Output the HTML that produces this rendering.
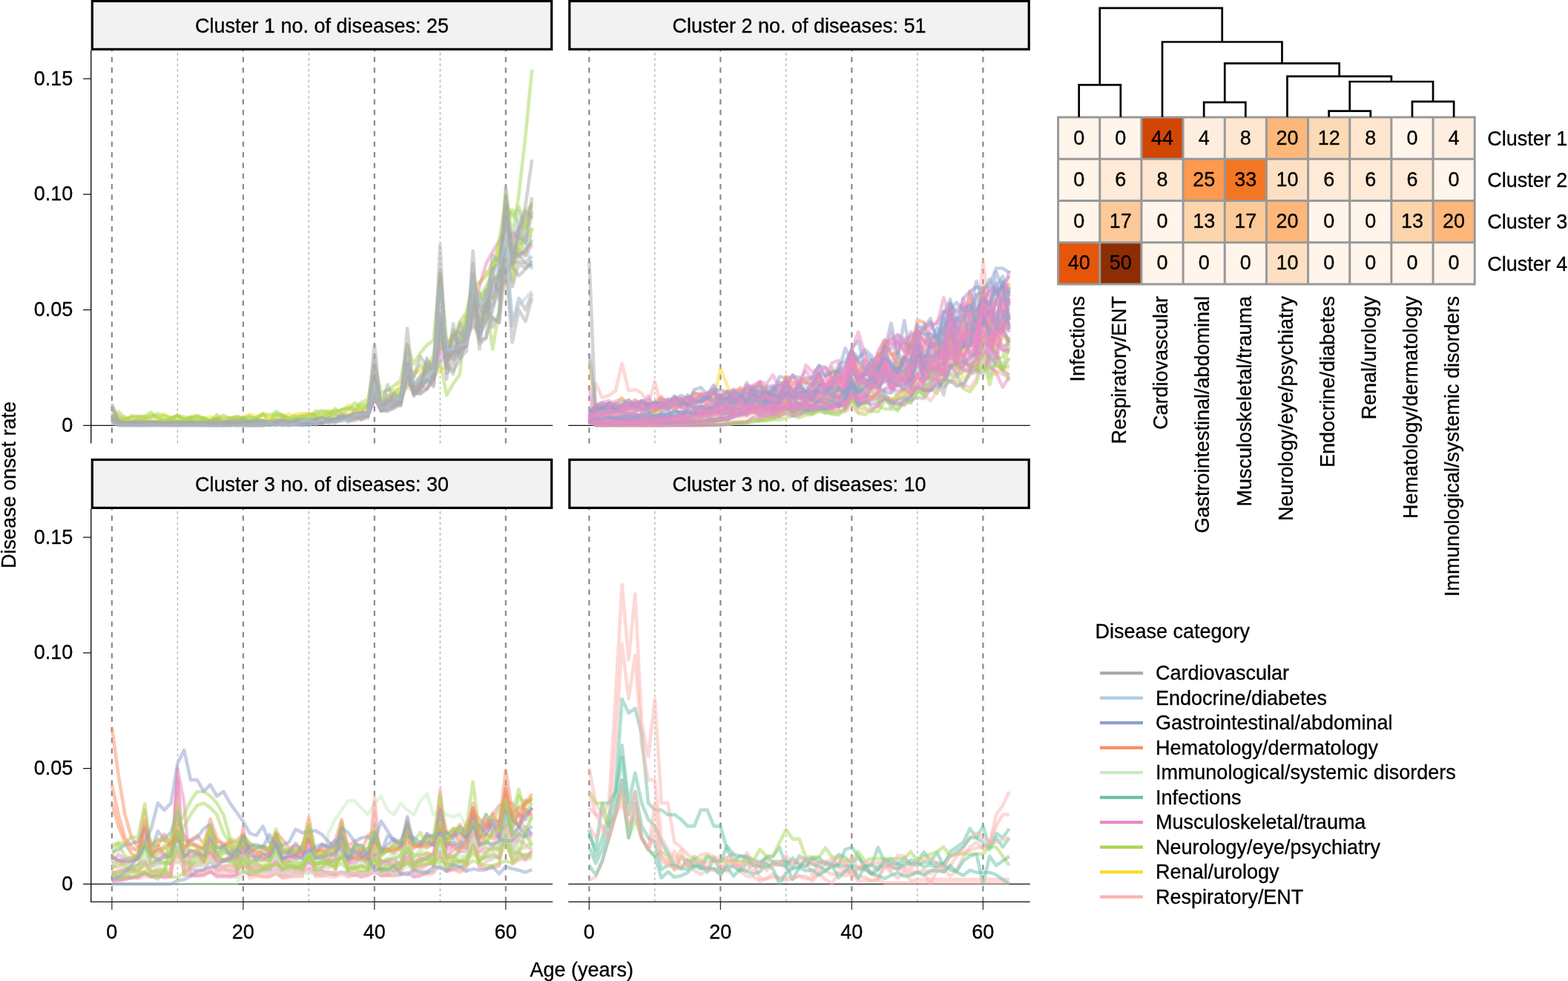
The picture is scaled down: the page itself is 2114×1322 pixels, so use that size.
<!DOCTYPE html><html><head><meta charset="utf-8"><title>Disease onset clusters</title><style>html,body{margin:0;padding:0;background:#fff;}svg{display:block;}text{stroke:#000;stroke-width:0.3px;}</style></head><body>
<svg width="2114" height="1322" viewBox="0 0 2114 1322" font-family="Liberation Sans, Arial, Helvetica, sans-serif" font-size="27">
<rect width="2114" height="1322" fill="#fff"/>
<line x1="239.35" y1="597.4" x2="239.35" y2="68.0" stroke="#a6a6a6" stroke-width="1.1" stroke-dasharray="3.6 3.66"/>
<line x1="416.35" y1="597.4" x2="416.35" y2="68.0" stroke="#a6a6a6" stroke-width="1.1" stroke-dasharray="3.6 3.66"/>
<line x1="593.35" y1="597.4" x2="593.35" y2="68.0" stroke="#a6a6a6" stroke-width="1.1" stroke-dasharray="3.6 3.66"/>
<line x1="150.85" y1="597.4" x2="150.85" y2="68.0" stroke="#8a8a8a" stroke-width="2.2" stroke-dasharray="7 7.27"/>
<line x1="327.85" y1="597.4" x2="327.85" y2="68.0" stroke="#8a8a8a" stroke-width="2.2" stroke-dasharray="7 7.27"/>
<line x1="504.85" y1="597.4" x2="504.85" y2="68.0" stroke="#8a8a8a" stroke-width="2.2" stroke-dasharray="7 7.27"/>
<line x1="681.85" y1="597.4" x2="681.85" y2="68.0" stroke="#8a8a8a" stroke-width="2.2" stroke-dasharray="7 7.27"/>
<line x1="112.0" y1="573.30" x2="745.2" y2="573.30" stroke="#111" stroke-width="1.2"/>
<g fill="none" stroke-width="4.6" stroke-linejoin="round" stroke-linecap="butt">
<polyline points="150.8,565.6 159.7,561.0 168.5,565.1 177.4,562.0 186.2,563.0 195.1,563.6 203.9,566.0 212.8,566.6 221.6,559.9 230.5,565.1 239.3,564.6 248.2,565.1 257.0,566.7 265.9,566.4 274.8,563.0 283.6,566.9 292.4,561.7 301.3,567.5 310.1,565.2 319.0,567.2 327.9,562.2 336.7,558.2 345.5,561.7 354.4,558.6 363.2,565.4 372.1,558.4 380.9,559.5 389.8,564.9 398.6,558.0 407.5,557.3 416.4,557.7 425.2,558.4 434.0,560.4 442.9,554.8 451.8,558.3 460.6,560.3 469.4,557.3 478.3,552.3 487.1,552.9 496.0,549.3 504.9,541.2 513.7,544.5 522.5,540.5 531.4,541.7 540.2,531.3 549.1,522.2 557.9,527.1 566.8,514.5 575.6,504.1 584.5,508.1 593.4,497.6 602.2,494.9 611.0,479.7 619.9,470.9 628.8,441.8 637.6,441.6 646.4,439.0 655.3,410.9 664.1,400.8 673.0,398.0 681.9,382.6 690.7,371.8 699.5,327.0 708.4,327.9 717.2,306.4" stroke="#FFD92F" stroke-opacity="0.50"/>
<polyline points="150.8,556.6 159.7,570.4 168.5,569.8 177.4,568.7 186.2,566.4 195.1,569.0 203.9,568.1 212.8,569.3 221.6,568.1 230.5,566.4 239.3,568.4 248.2,568.3 257.0,566.6 265.9,569.3 274.8,568.0 283.6,569.9 292.4,564.6 301.3,568.9 310.1,563.8 319.0,563.5 327.9,569.0 336.7,566.0 345.5,568.2 354.4,567.4 363.2,568.5 372.1,566.1 380.9,565.7 389.8,569.6 398.6,564.3 407.5,563.7 416.4,566.9 425.2,562.5 434.0,563.5 442.9,564.1 451.8,558.9 460.6,562.1 469.4,563.7 478.3,553.9 487.1,553.2 496.0,559.0 504.9,539.0 513.7,543.8 522.5,545.4 531.4,543.0 540.2,531.6 549.1,519.2 557.9,520.1 566.8,509.9 575.6,508.3 584.5,507.5 593.4,486.3 602.2,478.2 611.0,476.1 619.9,470.7 628.8,458.5 637.6,425.3 646.4,394.5 655.3,414.6 664.1,378.4 673.0,394.8 681.9,305.5 690.7,353.4 699.5,335.7 708.4,344.5 717.2,329.6" stroke="#E78AC3" stroke-opacity="0.50"/>
<polyline points="150.8,557.7 159.7,565.9 168.5,561.8 177.4,569.2 186.2,563.4 195.1,562.4 203.9,558.8 212.8,561.8 221.6,557.8 230.5,564.2 239.3,561.2 248.2,565.2 257.0,561.3 265.9,560.2 274.8,564.5 283.6,561.3 292.4,566.3 301.3,561.9 310.1,564.6 319.0,562.8 327.9,562.9 336.7,567.2 345.5,563.2 354.4,559.3 363.2,561.2 372.1,561.6 380.9,562.0 389.8,557.5 398.6,562.5 407.5,560.1 416.4,556.9 425.2,562.2 434.0,561.8 442.9,556.9 451.8,553.3 460.6,553.8 469.4,545.6 478.3,552.0 487.1,550.4 496.0,541.8 504.9,525.9 513.7,539.4 522.5,538.4 531.4,533.0 540.2,517.4 549.1,506.5 557.9,501.0 566.8,501.4 575.6,489.0 584.5,486.0 593.4,468.9 602.2,463.9 611.0,451.7 619.9,445.6 628.8,433.8 637.6,393.3 646.4,382.9 655.3,366.4 664.1,370.0 673.0,328.2 681.9,331.4 690.7,337.4 699.5,305.6 708.4,306.0 717.2,291.6" stroke="#FFD92F" stroke-opacity="0.50"/>
<polyline points="150.8,564.9 159.7,573.3 168.5,573.3 177.4,573.3 186.2,573.3 195.1,573.3 203.9,573.3 212.8,573.3 221.6,573.3 230.5,573.3 239.3,573.3 248.2,573.3 257.0,573.3 265.9,573.3 274.8,573.3 283.6,573.3 292.4,573.3 301.3,573.3 310.1,571.4 319.0,573.3 327.9,572.8 336.7,573.3 345.5,573.3 354.4,573.3 363.2,571.5 372.1,569.0 380.9,571.2 389.8,572.6 398.6,572.6 407.5,572.6 416.4,572.5 425.2,570.4 434.0,569.0 442.9,563.9 451.8,565.4 460.6,562.5 469.4,568.6 478.3,564.5 487.1,559.5 496.0,560.4 504.9,537.4 513.7,551.9 522.5,548.6 531.4,543.1 540.2,538.3 549.1,504.1 557.9,530.3 566.8,525.6 575.6,505.7 584.5,507.6 593.4,455.7 602.2,478.1 611.0,484.5 619.9,456.9 628.8,434.7 637.6,417.2 646.4,429.2 655.3,389.8 664.1,400.9 673.0,361.8 681.9,299.2 690.7,354.4 699.5,306.6 708.4,327.9 717.2,285.3" stroke="#8DA0CB" stroke-opacity="0.50"/>
<polyline points="150.8,546.8 159.7,565.1 168.5,567.1 177.4,569.6 186.2,569.3 195.1,567.8 203.9,568.5 212.8,569.5 221.6,568.1 230.5,567.4 239.3,568.3 248.2,568.9 257.0,567.8 265.9,568.6 274.8,568.7 283.6,566.2 292.4,564.1 301.3,568.1 310.1,571.0 319.0,567.8 327.9,567.7 336.7,566.9 345.5,567.8 354.4,566.0 363.2,568.0 372.1,567.8 380.9,571.2 389.8,567.5 398.6,567.3 407.5,565.8 416.4,565.2 425.2,562.7 434.0,563.1 442.9,565.1 451.8,560.0 460.6,562.3 469.4,561.2 478.3,560.8 487.1,555.9 496.0,545.1 504.9,538.7 513.7,547.9 522.5,547.1 531.4,539.9 540.2,539.1 549.1,517.2 557.9,519.3 566.8,512.8 575.6,508.9 584.5,499.6 593.4,467.7 602.2,473.4 611.0,466.9 619.9,469.2 628.8,442.2 637.6,409.9 646.4,401.8 655.3,392.7 664.1,367.7 673.0,345.9 681.9,255.6 690.7,321.0 699.5,261.8 708.4,184.0 717.2,93.7" stroke="#A6D854" stroke-opacity="0.50"/>
<polyline points="150.8,564.5 159.7,565.8 168.5,570.2 177.4,569.0 186.2,568.1 195.1,567.2 203.9,569.2 212.8,567.9 221.6,566.3 230.5,567.9 239.3,567.0 248.2,567.8 257.0,566.1 265.9,566.6 274.8,566.0 283.6,570.5 292.4,569.5 301.3,571.7 310.1,573.3 319.0,567.7 327.9,564.9 336.7,567.6 345.5,571.8 354.4,569.7 363.2,569.6 372.1,567.7 380.9,564.4 389.8,566.6 398.6,564.8 407.5,567.0 416.4,563.8 425.2,565.2 434.0,563.9 442.9,558.7 451.8,564.6 460.6,562.7 469.4,561.0 478.3,556.7 487.1,556.1 496.0,555.5 504.9,538.9 513.7,547.6 522.5,543.0 531.4,539.1 540.2,530.6 549.1,511.9 557.9,523.4 566.8,520.4 575.6,495.4 584.5,511.0 593.4,486.1 602.2,532.8 611.0,517.2 619.9,504.8 628.8,424.9 637.6,425.6 646.4,431.3 655.3,400.1 664.1,470.5 673.0,417.6 681.9,304.3 690.7,380.5 699.5,316.4 708.4,344.4 717.2,307.6" stroke="#A6D854" stroke-opacity="0.50"/>
<polyline points="150.8,565.0 159.7,568.4 168.5,570.5 177.4,570.0 186.2,570.9 195.1,571.0 203.9,569.2 212.8,570.4 221.6,570.2 230.5,570.5 239.3,570.0 248.2,570.3 257.0,570.0 265.9,570.0 274.8,568.9 283.6,572.6 292.4,570.3 301.3,568.8 310.1,568.2 319.0,571.4 327.9,570.2 336.7,568.5 345.5,568.1 354.4,569.6 363.2,570.4 372.1,571.5 380.9,566.1 389.8,572.4 398.6,566.4 407.5,567.9 416.4,567.5 425.2,566.6 434.0,567.3 442.9,563.8 451.8,564.5 460.6,560.5 469.4,562.8 478.3,561.3 487.1,560.3 496.0,558.2 504.9,512.4 513.7,552.1 522.5,546.3 531.4,529.6 540.2,537.4 549.1,491.3 557.9,534.0 566.8,523.4 575.6,511.5 584.5,518.6 593.4,429.3 602.2,479.6 611.0,476.6 619.9,475.2 628.8,465.9 637.6,393.1 646.4,441.6 655.3,420.3 664.1,361.0 673.0,403.7 681.9,350.0 690.7,352.9 699.5,343.0 708.4,353.7 717.2,345.4" stroke="#AAAAAA" stroke-opacity="0.50"/>
<polyline points="150.8,569.2 159.7,570.5 168.5,569.7 177.4,570.4 186.2,570.9 195.1,570.7 203.9,570.2 212.8,570.0 221.6,570.4 230.5,570.1 239.3,568.8 248.2,571.6 257.0,571.9 265.9,570.4 274.8,571.2 283.6,570.0 292.4,570.5 301.3,570.1 310.1,568.6 319.0,569.2 327.9,571.9 336.7,570.4 345.5,567.8 354.4,569.7 363.2,569.4 372.1,568.5 380.9,572.1 389.8,570.9 398.6,570.0 407.5,566.1 416.4,568.3 425.2,565.2 434.0,563.7 442.9,570.0 451.8,565.0 460.6,564.7 469.4,560.5 478.3,559.7 487.1,556.3 496.0,557.0 504.9,528.0 513.7,550.2 522.5,547.3 531.4,530.4 540.2,542.5 549.1,494.5 557.9,529.5 566.8,524.2 575.6,485.8 584.5,498.5 593.4,461.9 602.2,481.4 611.0,473.3 619.9,475.6 628.8,465.5 637.6,410.4 646.4,402.3 655.3,418.2 664.1,381.5 673.0,367.7 681.9,363.2 690.7,461.2 699.5,417.6 708.4,433.1 717.2,402.0" stroke="#AAAAAA" stroke-opacity="0.50"/>
<polyline points="150.8,558.7 159.7,572.5 168.5,572.6 177.4,572.4 186.2,572.6 195.1,572.8 203.9,572.7 212.8,572.8 221.6,572.7 230.5,572.9 239.3,572.5 248.2,572.6 257.0,572.7 265.9,572.7 274.8,572.7 283.6,572.4 292.4,571.7 301.3,573.3 310.1,571.6 319.0,572.1 327.9,572.8 336.7,573.3 345.5,570.2 354.4,572.3 363.2,570.7 372.1,569.1 380.9,573.3 389.8,573.3 398.6,569.1 407.5,573.3 416.4,573.3 425.2,567.1 434.0,567.4 442.9,567.1 451.8,566.7 460.6,566.1 469.4,562.8 478.3,563.5 487.1,560.3 496.0,557.0 504.9,534.7 513.7,552.8 522.5,551.5 531.4,546.0 540.2,537.8 549.1,512.9 557.9,521.7 566.8,522.4 575.6,515.9 584.5,511.9 593.4,477.1 602.2,494.9 611.0,463.9 619.9,482.9 628.8,440.3 637.6,408.0 646.4,456.5 655.3,427.4 664.1,384.5 673.0,364.8 681.9,329.1 690.7,351.2 699.5,324.7 708.4,326.9 717.2,363.0" stroke="#B0CCE3" stroke-opacity="0.50"/>
<polyline points="150.8,563.0 159.7,559.3 168.5,567.2 177.4,560.1 186.2,561.1 195.1,560.9 203.9,555.6 212.8,564.4 221.6,565.9 230.5,564.1 239.3,559.1 248.2,565.8 257.0,564.4 265.9,559.8 274.8,564.6 283.6,567.0 292.4,564.0 301.3,559.5 310.1,564.1 319.0,561.1 327.9,563.2 336.7,560.9 345.5,565.9 354.4,557.2 363.2,569.2 372.1,554.3 380.9,559.5 389.8,564.7 398.6,563.5 407.5,559.9 416.4,560.2 425.2,557.8 434.0,553.0 442.9,556.1 451.8,556.3 460.6,552.4 469.4,549.6 478.3,554.4 487.1,545.3 496.0,546.0 504.9,513.9 513.7,536.4 522.5,524.8 531.4,526.3 540.2,525.1 549.1,501.6 557.9,507.4 566.8,491.3 575.6,502.3 584.5,477.6 593.4,423.5 602.2,468.9 611.0,458.9 619.9,434.1 628.8,420.9 637.6,384.4 646.4,380.4 655.3,372.2 664.1,353.2 673.0,346.6 681.9,300.2 690.7,282.7 699.5,303.4 708.4,285.0 717.2,275.4" stroke="#A6D854" stroke-opacity="0.50"/>
<polyline points="150.8,568.7 159.7,571.1 168.5,572.0 177.4,570.7 186.2,571.8 195.1,571.7 203.9,572.0 212.8,571.7 221.6,572.1 230.5,571.5 239.3,571.4 248.2,572.1 257.0,572.0 265.9,571.4 274.8,571.9 283.6,567.4 292.4,571.3 301.3,570.1 310.1,573.3 319.0,571.5 327.9,572.5 336.7,571.6 345.5,570.9 354.4,572.0 363.2,573.3 372.1,569.7 380.9,572.1 389.8,569.4 398.6,569.1 407.5,568.8 416.4,569.7 425.2,568.7 434.0,568.4 442.9,565.2 451.8,561.4 460.6,566.4 469.4,564.2 478.3,562.9 487.1,558.4 496.0,557.5 504.9,527.8 513.7,551.4 522.5,549.1 531.4,536.8 540.2,533.6 549.1,500.7 557.9,513.2 566.8,508.5 575.6,503.0 584.5,492.2 593.4,441.2 602.2,471.0 611.0,479.3 619.9,449.9 628.8,442.1 637.6,384.6 646.4,413.2 655.3,403.3 664.1,385.9 673.0,362.4 681.9,309.7 690.7,303.7 699.5,327.2 708.4,290.9 717.2,300.3" stroke="#C7E9C0" stroke-opacity="0.50"/>
<polyline points="150.8,569.5 159.7,572.1 168.5,572.6 177.4,572.8 186.2,572.5 195.1,572.5 203.9,572.7 212.8,572.7 221.6,572.7 230.5,572.5 239.3,572.8 248.2,572.3 257.0,572.5 265.9,572.4 274.8,572.0 283.6,568.7 292.4,573.1 301.3,573.3 310.1,570.9 319.0,573.3 327.9,573.0 336.7,573.3 345.5,573.3 354.4,571.6 363.2,573.3 372.1,571.4 380.9,572.2 389.8,573.3 398.6,571.7 407.5,572.4 416.4,567.5 425.2,571.6 434.0,566.9 442.9,566.8 451.8,564.5 460.6,563.1 469.4,564.1 478.3,560.0 487.1,559.9 496.0,560.8 504.9,524.9 513.7,552.5 522.5,549.8 531.4,546.0 540.2,545.2 549.1,511.1 557.9,527.4 566.8,523.6 575.6,507.0 584.5,509.6 593.4,447.5 602.2,477.8 611.0,476.4 619.9,456.6 628.8,460.7 637.6,416.8 646.4,411.7 655.3,402.0 664.1,414.4 673.0,393.9 681.9,305.8 690.7,346.6 699.5,284.0 708.4,325.2 717.2,317.0" stroke="#B0CCE3" stroke-opacity="0.50"/>
<polyline points="150.8,560.0 159.7,571.8 168.5,571.1 177.4,571.7 186.2,572.1 195.1,572.2 203.9,571.6 212.8,571.5 221.6,571.5 230.5,572.1 239.3,572.1 248.2,572.3 257.0,571.4 265.9,571.6 274.8,570.9 283.6,571.3 292.4,569.1 301.3,572.0 310.1,571.6 319.0,573.3 327.9,570.8 336.7,571.5 345.5,572.4 354.4,573.3 363.2,570.5 372.1,571.0 380.9,570.0 389.8,571.0 398.6,570.7 407.5,568.7 416.4,569.8 425.2,565.5 434.0,568.8 442.9,563.8 451.8,565.9 460.6,563.3 469.4,565.0 478.3,566.9 487.1,563.7 496.0,560.2 504.9,535.3 513.7,553.0 522.5,546.9 531.4,547.3 540.2,535.8 549.1,506.7 557.9,532.0 566.8,519.1 575.6,524.3 584.5,510.7 593.4,470.3 602.2,486.3 611.0,474.9 619.9,473.7 628.8,455.9 637.6,417.6 646.4,386.4 655.3,355.3 664.1,339.7 673.0,324.1 681.9,308.6 690.7,324.1 699.5,308.6 708.4,293.0 717.2,277.4" stroke="#E78AC3" stroke-opacity="0.50"/>
<polyline points="150.8,559.5 159.7,566.7 168.5,564.3 177.4,562.5 186.2,561.5 195.1,561.9 203.9,562.9 212.8,557.3 221.6,560.8 230.5,562.4 239.3,560.9 248.2,561.8 257.0,563.1 265.9,561.8 274.8,563.6 283.6,567.4 292.4,558.9 301.3,568.4 310.1,566.9 319.0,566.0 327.9,564.8 336.7,567.2 345.5,562.2 354.4,558.1 363.2,558.8 372.1,557.3 380.9,561.9 389.8,562.8 398.6,560.4 407.5,566.0 416.4,557.6 425.2,559.6 434.0,559.2 442.9,561.9 451.8,550.7 460.6,559.6 469.4,551.8 478.3,542.8 487.1,549.9 496.0,548.2 504.9,528.8 513.7,542.8 522.5,534.5 531.4,529.6 540.2,529.7 549.1,508.5 557.9,516.3 566.8,513.8 575.6,498.4 584.5,487.7 593.4,453.9 602.2,474.4 611.0,444.5 619.9,461.8 628.8,444.5 637.6,410.5 646.4,411.1 655.3,399.0 664.1,373.1 673.0,374.4 681.9,332.5 690.7,326.9 699.5,343.6 708.4,300.9 717.2,281.6" stroke="#A6D854" stroke-opacity="0.50"/>
<polyline points="150.8,560.5 159.7,569.6 168.5,570.6 177.4,570.3 186.2,570.9 195.1,571.5 203.9,570.6 212.8,571.7 221.6,571.5 230.5,569.7 239.3,570.3 248.2,570.7 257.0,570.1 265.9,571.1 274.8,570.6 283.6,570.3 292.4,569.0 301.3,571.4 310.1,568.8 319.0,572.4 327.9,570.7 336.7,570.9 345.5,570.4 354.4,570.3 363.2,572.7 372.1,569.8 380.9,569.5 389.8,568.8 398.6,569.4 407.5,569.4 416.4,569.8 425.2,568.0 434.0,570.1 442.9,566.4 451.8,566.5 460.6,561.6 469.4,561.6 478.3,561.3 487.1,559.1 496.0,557.4 504.9,533.9 513.7,553.5 522.5,539.3 531.4,543.7 540.2,539.5 549.1,507.6 557.9,529.3 566.8,519.2 575.6,490.7 584.5,506.3 593.4,447.0 602.2,485.5 611.0,450.9 619.9,447.3 628.8,459.7 637.6,435.8 646.4,452.3 655.3,432.2 664.1,419.0 673.0,375.7 681.9,335.2 690.7,439.4 699.5,402.0 708.4,417.6 717.2,395.8" stroke="#AAAAAA" stroke-opacity="0.50"/>
<polyline points="150.8,566.2 159.7,554.8 168.5,563.0 177.4,566.7 186.2,565.7 195.1,566.1 203.9,560.7 212.8,561.8 221.6,567.7 230.5,565.1 239.3,560.5 248.2,565.9 257.0,562.5 265.9,564.6 274.8,563.2 283.6,568.1 292.4,569.5 301.3,564.5 310.1,563.2 319.0,562.0 327.9,563.2 336.7,562.0 345.5,564.4 354.4,566.6 363.2,570.7 372.1,561.6 380.9,558.8 389.8,563.7 398.6,566.3 407.5,561.1 416.4,564.1 425.2,554.1 434.0,556.0 442.9,553.7 451.8,554.5 460.6,552.1 469.4,550.3 478.3,549.2 487.1,542.4 496.0,538.4 504.9,492.1 513.7,528.8 522.5,525.7 531.4,519.6 540.2,512.9 549.1,465.2 557.9,490.5 566.8,475.4 575.6,465.0 584.5,458.7 593.4,363.9 602.2,459.3 611.0,457.8 619.9,439.8 628.8,429.0 637.6,380.7 646.4,398.6 655.3,386.8 664.1,365.5 673.0,324.5 681.9,273.6 690.7,292.0 699.5,278.4 708.4,308.5 717.2,272.5" stroke="#A6D854" stroke-opacity="0.50"/>
<polyline points="150.8,569.3 159.7,570.5 168.5,571.2 177.4,571.0 186.2,570.9 195.1,571.0 203.9,571.0 212.8,571.3 221.6,571.7 230.5,572.3 239.3,571.3 248.2,570.7 257.0,571.1 265.9,570.4 274.8,571.0 283.6,571.7 292.4,569.8 301.3,573.1 310.1,573.3 319.0,570.3 327.9,570.9 336.7,570.3 345.5,568.7 354.4,573.3 363.2,572.3 372.1,573.3 380.9,566.9 389.8,569.4 398.6,569.0 407.5,571.1 416.4,570.7 425.2,568.4 434.0,566.4 442.9,566.9 451.8,565.5 460.6,561.5 469.4,566.2 478.3,558.8 487.1,564.9 496.0,563.3 504.9,510.2 513.7,553.5 522.5,554.4 531.4,548.9 540.2,546.0 549.1,490.7 557.9,530.5 566.8,529.9 575.6,524.3 584.5,507.6 593.4,436.1 602.2,493.8 611.0,504.1 619.9,463.2 628.8,465.5 637.6,412.7 646.4,458.1 655.3,455.0 664.1,428.2 673.0,434.6 681.9,359.5 690.7,355.4 699.5,351.9 708.4,355.0 717.2,359.0" stroke="#AAAAAA" stroke-opacity="0.50"/>
<polyline points="150.8,548.4 159.7,568.5 168.5,570.6 177.4,570.9 186.2,570.7 195.1,570.4 203.9,571.7 212.8,571.2 221.6,571.5 230.5,572.0 239.3,569.9 248.2,569.6 257.0,569.8 265.9,571.8 274.8,570.3 283.6,570.9 292.4,572.3 301.3,570.7 310.1,568.0 319.0,570.1 327.9,573.3 336.7,568.3 345.5,572.3 354.4,567.6 363.2,571.3 372.1,571.1 380.9,573.3 389.8,569.1 398.6,569.1 407.5,565.5 416.4,566.2 425.2,566.3 434.0,568.1 442.9,564.4 451.8,566.3 460.6,557.4 469.4,561.9 478.3,560.1 487.1,556.8 496.0,556.2 504.9,479.9 513.7,552.7 522.5,538.5 531.4,534.9 540.2,538.9 549.1,464.3 557.9,529.3 566.8,523.6 575.6,512.7 584.5,508.4 593.4,370.9 602.2,485.7 611.0,451.9 619.9,467.7 628.8,455.7 637.6,355.3 646.4,449.6 655.3,427.9 664.1,375.4 673.0,373.9 681.9,268.1 690.7,331.7 699.5,346.7 708.4,336.9 717.2,326.3" stroke="#AAAAAA" stroke-opacity="0.50"/>
<polyline points="150.8,559.7 159.7,571.7 168.5,572.2 177.4,571.4 186.2,571.8 195.1,571.7 203.9,571.3 212.8,572.0 221.6,572.1 230.5,571.9 239.3,572.3 248.2,572.3 257.0,572.3 265.9,571.8 274.8,572.5 283.6,573.3 292.4,573.3 301.3,569.1 310.1,569.9 319.0,571.0 327.9,569.1 336.7,569.3 345.5,572.2 354.4,572.2 363.2,568.6 372.1,570.5 380.9,569.6 389.8,572.3 398.6,569.3 407.5,573.3 416.4,566.4 425.2,572.9 434.0,568.6 442.9,566.0 451.8,565.7 460.6,564.5 469.4,564.8 478.3,558.5 487.1,557.5 496.0,559.1 504.9,509.4 513.7,552.0 522.5,532.5 531.4,544.9 540.2,543.0 549.1,475.6 557.9,529.1 566.8,516.8 575.6,482.7 584.5,502.7 593.4,377.4 602.2,481.2 611.0,473.6 619.9,434.7 628.8,458.8 637.6,386.7 646.4,441.0 655.3,418.6 664.1,409.7 673.0,366.4 681.9,281.3 690.7,348.8 699.5,319.3 708.4,325.0 717.2,266.2" stroke="#AAAAAA" stroke-opacity="0.50"/>
<polyline points="150.8,569.0 159.7,571.6 168.5,572.0 177.4,571.7 186.2,572.2 195.1,571.7 203.9,571.6 212.8,571.9 221.6,571.8 230.5,571.0 239.3,571.8 248.2,572.0 257.0,571.5 265.9,571.4 274.8,572.1 283.6,567.5 292.4,573.2 301.3,573.3 310.1,571.2 319.0,569.4 327.9,573.3 336.7,573.3 345.5,571.0 354.4,570.5 363.2,572.1 372.1,570.7 380.9,570.0 389.8,573.3 398.6,566.5 407.5,567.3 416.4,568.2 425.2,566.2 434.0,567.2 442.9,566.7 451.8,564.5 460.6,563.2 469.4,561.0 478.3,559.4 487.1,557.1 496.0,555.2 504.9,526.7 513.7,550.0 522.5,518.3 531.4,541.6 540.2,530.2 549.1,508.1 557.9,507.9 566.8,480.1 575.6,495.3 584.5,489.4 593.4,436.2 602.2,458.9 611.0,481.1 619.9,450.3 628.8,441.6 637.6,395.2 646.4,413.9 655.3,410.6 664.1,363.3 673.0,354.0 681.9,334.7 690.7,313.3 699.5,320.5 708.4,284.3 717.2,293.4" stroke="#AAAAAA" stroke-opacity="0.50"/>
<polyline points="150.8,564.3 159.7,569.9 168.5,570.6 177.4,571.3 186.2,570.3 195.1,570.3 203.9,570.9 212.8,570.4 221.6,571.3 230.5,570.8 239.3,572.0 248.2,570.9 257.0,569.2 265.9,570.3 274.8,569.7 283.6,572.8 292.4,573.3 301.3,571.0 310.1,569.7 319.0,572.2 327.9,570.5 336.7,570.0 345.5,566.8 354.4,571.9 363.2,570.9 372.1,569.9 380.9,569.9 389.8,570.6 398.6,567.3 407.5,569.0 416.4,570.0 425.2,565.2 434.0,563.4 442.9,569.2 451.8,565.8 460.6,562.8 469.4,563.5 478.3,564.5 487.1,560.1 496.0,560.5 504.9,513.1 513.7,554.0 522.5,543.8 531.4,540.7 540.2,546.6 549.1,496.3 557.9,529.7 566.8,522.0 575.6,511.1 584.5,521.1 593.4,425.0 602.2,503.2 611.0,487.9 619.9,472.5 628.8,465.5 637.6,424.6 646.4,463.1 655.3,455.6 664.1,374.1 673.0,393.9 681.9,369.6 690.7,355.3 699.5,308.6 708.4,277.4 717.2,215.1" stroke="#AAAAAA" stroke-opacity="0.50"/>
<polyline points="150.8,544.0 159.7,567.4 168.5,569.8 177.4,569.1 186.2,567.8 195.1,568.5 203.9,568.8 212.8,568.8 221.6,570.3 230.5,568.6 239.3,571.0 248.2,569.8 257.0,569.9 265.9,571.1 274.8,569.6 283.6,569.1 292.4,565.6 301.3,570.7 310.1,567.8 319.0,566.1 327.9,569.3 336.7,568.7 345.5,570.6 354.4,569.2 363.2,569.8 372.1,566.3 380.9,566.0 389.8,568.3 398.6,568.6 407.5,570.7 416.4,567.4 425.2,566.0 434.0,563.4 442.9,567.0 451.8,565.5 460.6,563.3 469.4,563.1 478.3,559.0 487.1,566.0 496.0,555.6 504.9,464.3 513.7,552.5 522.5,552.9 531.4,550.5 540.2,541.3 549.1,442.5 557.9,527.7 566.8,531.0 575.6,523.8 584.5,508.8 593.4,330.4 602.2,510.9 611.0,436.3 619.9,482.9 628.8,473.3 637.6,338.1 646.4,470.4 655.3,393.3 664.1,429.1 673.0,434.7 681.9,252.5 690.7,359.3 699.5,371.5 708.4,362.8 717.2,351.3" stroke="#AAAAAA" stroke-opacity="0.50"/>
<polyline points="150.8,564.9 159.7,569.0 168.5,571.4 177.4,568.1 186.2,568.7 195.1,570.8 203.9,569.7 212.8,569.9 221.6,570.6 230.5,571.2 239.3,570.0 248.2,570.2 257.0,569.0 265.9,569.9 274.8,570.9 283.6,571.6 292.4,570.3 301.3,572.2 310.1,573.3 319.0,571.6 327.9,564.2 336.7,571.7 345.5,565.8 354.4,567.4 363.2,569.4 372.1,569.3 380.9,568.0 389.8,570.6 398.6,566.0 407.5,568.0 416.4,570.4 425.2,566.3 434.0,570.5 442.9,565.8 451.8,568.1 460.6,566.2 469.4,560.1 478.3,558.0 487.1,563.5 496.0,560.8 504.9,513.0 513.7,553.6 522.5,541.8 531.4,546.6 540.2,543.0 549.1,490.4 557.9,521.9 566.8,506.2 575.6,500.3 584.5,510.2 593.4,414.5 602.2,490.6 611.0,499.3 619.9,485.3 628.8,459.7 637.6,399.2 646.4,446.7 655.3,403.0 664.1,440.9 673.0,422.2 681.9,335.8 690.7,386.4 699.5,355.3 708.4,361.5 717.2,355.3" stroke="#AAAAAA" stroke-opacity="0.50"/>
<polyline points="150.8,570.2 159.7,572.8 168.5,573.0 177.4,572.8 186.2,573.1 195.1,572.8 203.9,572.9 212.8,572.8 221.6,573.0 230.5,573.1 239.3,572.9 248.2,572.8 257.0,572.8 265.9,572.9 274.8,572.9 283.6,573.3 292.4,573.3 301.3,573.3 310.1,573.3 319.0,573.3 327.9,573.3 336.7,573.3 345.5,572.2 354.4,572.9 363.2,569.9 372.1,573.3 380.9,571.0 389.8,571.7 398.6,572.0 407.5,567.1 416.4,566.9 425.2,569.8 434.0,565.8 442.9,570.3 451.8,567.9 460.6,567.8 469.4,564.3 478.3,560.4 487.1,559.1 496.0,557.3 504.9,516.0 513.7,551.7 522.5,548.0 531.4,541.9 540.2,536.7 549.1,493.3 557.9,517.3 566.8,511.4 575.6,507.4 584.5,500.1 593.4,386.4 602.2,471.8 611.0,470.1 619.9,465.2 628.8,463.6 637.6,380.2 646.4,414.1 655.3,401.9 664.1,366.9 673.0,359.3 681.9,323.9 690.7,433.1 699.5,411.3 708.4,402.0 717.2,392.7" stroke="#B0CCE3" stroke-opacity="0.50"/>
<polyline points="150.8,564.8 159.7,572.7 168.5,573.0 177.4,572.7 186.2,573.0 195.1,572.9 203.9,572.8 212.8,572.8 221.6,572.9 230.5,572.9 239.3,572.9 248.2,573.0 257.0,572.9 265.9,573.0 274.8,572.8 283.6,573.1 292.4,571.3 301.3,572.4 310.1,572.9 319.0,572.6 327.9,572.0 336.7,573.1 345.5,573.3 354.4,573.3 363.2,570.7 372.1,571.4 380.9,571.8 389.8,568.7 398.6,569.4 407.5,572.2 416.4,569.5 425.2,570.8 434.0,570.9 442.9,567.1 451.8,569.9 460.6,563.0 469.4,561.2 478.3,563.0 487.1,560.7 496.0,556.4 504.9,497.4 513.7,552.2 522.5,550.8 531.4,541.8 540.2,540.7 549.1,487.9 557.9,527.7 566.8,514.5 575.6,500.4 584.5,495.1 593.4,368.5 602.2,486.9 611.0,475.0 619.9,461.2 628.8,455.4 637.6,369.5 646.4,418.7 655.3,420.2 664.1,344.1 673.0,353.0 681.9,289.8 690.7,340.8 699.5,342.5 708.4,339.2 717.2,322.8" stroke="#AAAAAA" stroke-opacity="0.50"/>
</g>
<line x1="122.70" y1="68.0" x2="122.70" y2="597.4" stroke="#111" stroke-width="1.4"/>
<line x1="112" y1="417.57" x2="122.70" y2="417.57" stroke="#111" stroke-width="1.25"/>
<line x1="112" y1="261.84" x2="122.70" y2="261.84" stroke="#111" stroke-width="1.25"/>
<line x1="112" y1="106.11" x2="122.70" y2="106.11" stroke="#111" stroke-width="1.25"/>
<text transform="translate(98.20,581.90) scale(1,1.040)" text-anchor="end">0</text>
<text transform="translate(98.20,426.17) scale(1,1.040)" text-anchor="end">0.05</text>
<text transform="translate(98.20,270.44) scale(1,1.040)" text-anchor="end">0.10</text>
<text transform="translate(98.20,114.71) scale(1,1.040)" text-anchor="end">0.15</text>
<rect x="124.30" y="1.50" width="619.40" height="64.9" fill="#f2f2f2" stroke="#000" stroke-width="3.2"/>
<text transform="translate(433.95,43.60) scale(1,1.040)" text-anchor="middle">Cluster 1 no. of diseases: 25</text>
<line x1="882.85" y1="597.4" x2="882.85" y2="68.0" stroke="#a6a6a6" stroke-width="1.1" stroke-dasharray="3.6 3.66"/>
<line x1="1059.85" y1="597.4" x2="1059.85" y2="68.0" stroke="#a6a6a6" stroke-width="1.1" stroke-dasharray="3.6 3.66"/>
<line x1="1236.85" y1="597.4" x2="1236.85" y2="68.0" stroke="#a6a6a6" stroke-width="1.1" stroke-dasharray="3.6 3.66"/>
<line x1="794.35" y1="597.4" x2="794.35" y2="68.0" stroke="#8a8a8a" stroke-width="2.2" stroke-dasharray="7 7.27"/>
<line x1="971.35" y1="597.4" x2="971.35" y2="68.0" stroke="#8a8a8a" stroke-width="2.2" stroke-dasharray="7 7.27"/>
<line x1="1148.35" y1="597.4" x2="1148.35" y2="68.0" stroke="#8a8a8a" stroke-width="2.2" stroke-dasharray="7 7.27"/>
<line x1="1325.35" y1="597.4" x2="1325.35" y2="68.0" stroke="#8a8a8a" stroke-width="2.2" stroke-dasharray="7 7.27"/>
<line x1="766.2" y1="573.30" x2="1388.7" y2="573.30" stroke="#111" stroke-width="1.2"/>
<g fill="none" stroke-width="4.6" stroke-linejoin="round" stroke-linecap="butt">
<polyline points="794.4,565.1 803.2,568.7 812.0,569.9 820.9,569.4 829.8,568.8 838.6,569.0 847.5,568.7 856.3,569.1 865.1,570.1 874.0,570.2 882.9,571.0 891.7,570.6 900.5,571.5 909.4,571.8 918.2,572.0 927.1,572.2 936.0,571.4 944.8,570.2 953.6,567.9 962.5,568.1 971.4,565.9 980.2,561.7 989.0,559.8 997.9,558.6 1006.8,555.4 1015.6,556.0 1024.5,560.3 1033.3,559.5 1042.2,556.9 1051.0,560.2 1059.8,553.2 1068.7,556.2 1077.5,554.2 1086.4,554.6 1095.2,554.8 1104.1,551.4 1112.9,549.3 1121.8,554.4 1130.7,553.8 1139.5,552.7 1148.3,538.7 1157.2,546.9 1166.0,537.1 1174.9,525.7 1183.8,533.5 1192.6,491.4 1201.4,505.4 1210.3,507.9 1219.2,529.5 1228.0,498.2 1236.8,479.0 1245.7,504.4 1254.5,496.5 1263.4,469.8 1272.2,484.9 1281.1,441.7 1289.9,481.2 1298.8,482.1 1307.7,464.4 1316.5,463.7 1325.3,409.0 1334.2,466.8 1343.0,424.7 1351.9,439.6 1360.8,442.2" stroke="#AAAAAA" stroke-opacity="0.50"/>
<polyline points="794.4,564.1 803.2,565.7 812.0,565.8 820.9,562.2 829.8,563.8 838.6,561.2 847.5,560.5 856.3,558.2 865.1,558.9 874.0,558.5 882.9,553.3 891.7,555.8 900.5,554.5 909.4,559.0 918.2,555.1 927.1,555.1 936.0,558.3 944.8,561.6 953.6,556.3 962.5,560.3 971.4,553.5 980.2,549.6 989.0,553.1 997.9,548.3 1006.8,547.8 1015.6,536.3 1024.5,543.3 1033.3,542.7 1042.2,541.4 1051.0,527.0 1059.8,519.4 1068.7,521.7 1077.5,530.5 1086.4,518.6 1095.2,535.6 1104.1,516.1 1112.9,529.2 1121.8,533.8 1130.7,531.9 1139.5,533.7 1148.3,509.9 1157.2,528.9 1166.0,519.0 1174.9,516.4 1183.8,516.4 1192.6,501.7 1201.4,506.4 1210.3,486.7 1219.2,485.7 1228.0,485.3 1236.8,453.0 1245.7,436.1 1254.5,466.8 1263.4,460.6 1272.2,441.8 1281.1,436.9 1289.9,472.4 1298.8,462.5 1307.7,454.9 1316.5,447.2 1325.3,425.4 1334.2,455.2 1343.0,430.3 1351.9,410.2 1360.8,442.9" stroke="#B0CCE3" stroke-opacity="0.50"/>
<polyline points="794.4,486.1 803.2,560.8 812.0,554.6 820.9,548.4 829.8,545.3 838.6,535.9 847.5,551.5 856.3,539.0 865.1,545.3 874.0,548.4 882.9,554.6 891.7,557.7 900.5,569.5 909.4,568.0 918.2,567.8 927.1,566.4 936.0,565.5 944.8,566.3 953.6,545.3 962.5,535.9 971.4,497.0 980.2,518.8 989.0,539.0 997.9,548.4 1006.8,558.5 1015.6,556.5 1024.5,555.9 1033.3,552.1 1042.2,553.4 1051.0,554.2 1059.8,537.7 1068.7,550.3 1077.5,545.4 1086.4,547.4 1095.2,549.4 1104.1,550.1 1112.9,542.3 1121.8,550.9 1130.7,545.3 1139.5,548.7 1148.3,527.2 1157.2,541.7 1166.0,545.3 1174.9,536.7 1183.8,517.6 1192.6,510.8 1201.4,505.2 1210.3,510.0 1219.2,488.8 1228.0,512.9 1236.8,456.4 1245.7,496.8 1254.5,498.5 1263.4,507.0 1272.2,515.1 1281.1,480.5 1289.9,492.0 1298.8,510.3 1307.7,501.0 1316.5,496.7 1325.3,477.4 1334.2,504.7 1343.0,503.9 1351.9,495.4 1360.8,496.3" stroke="#FFD92F" stroke-opacity="0.50"/>
<polyline points="794.4,568.8 803.2,569.0 812.0,569.5 820.9,569.4 829.8,568.4 838.6,567.5 847.5,567.2 856.3,567.5 865.1,568.6 874.0,567.1 882.9,569.2 891.7,568.4 900.5,568.8 909.4,567.6 918.2,570.7 927.1,571.8 936.0,573.0 944.8,572.8 953.6,572.9 962.5,572.4 971.4,572.5 980.2,571.7 989.0,570.8 997.9,570.5 1006.8,569.8 1015.6,568.8 1024.5,567.1 1033.3,564.6 1042.2,561.2 1051.0,562.0 1059.8,555.8 1068.7,560.1 1077.5,558.2 1086.4,556.9 1095.2,557.1 1104.1,547.4 1112.9,556.5 1121.8,549.4 1130.7,547.3 1139.5,542.0 1148.3,526.2 1157.2,531.2 1166.0,533.0 1174.9,536.4 1183.8,537.2 1192.6,525.7 1201.4,516.4 1210.3,537.6 1219.2,520.3 1228.0,520.4 1236.8,436.3 1245.7,527.9 1254.5,515.9 1263.4,503.2 1272.2,509.1 1281.1,514.1 1289.9,504.6 1298.8,501.3 1307.7,495.9 1316.5,498.5 1325.3,472.0 1334.2,507.6 1343.0,464.9 1351.9,465.8 1360.8,471.4" stroke="#B0CCE3" stroke-opacity="0.50"/>
<polyline points="794.4,567.4 803.2,573.3 812.0,573.3 820.9,573.3 829.8,573.3 838.6,573.3 847.5,573.3 856.3,573.3 865.1,573.3 874.0,573.3 882.9,554.6 891.7,549.9 900.5,546.8 909.4,545.3 918.2,544.3 927.1,544.6 936.0,545.9 944.8,548.4 953.6,551.5 962.5,572.5 971.4,572.6 980.2,571.7 989.0,570.6 997.9,570.5 1006.8,570.2 1015.6,567.3 1024.5,567.8 1033.3,566.2 1042.2,565.0 1051.0,560.7 1059.8,549.8 1068.7,559.0 1077.5,549.4 1086.4,546.1 1095.2,543.6 1104.1,526.8 1112.9,538.2 1121.8,542.5 1130.7,528.6 1139.5,526.0 1148.3,514.7 1157.2,527.9 1166.0,529.8 1174.9,533.5 1183.8,530.4 1192.6,534.6 1201.4,537.1 1210.3,539.0 1219.2,537.1 1228.0,543.0 1236.8,526.9 1245.7,532.9 1254.5,524.0 1263.4,530.2 1272.2,509.2 1281.1,514.9 1289.9,513.9 1298.8,523.5 1307.7,528.0 1316.5,516.0 1325.3,481.2 1334.2,518.5 1343.0,483.1 1351.9,500.9 1360.8,512.7" stroke="#A6D854" stroke-opacity="0.50"/>
<polyline points="794.4,570.2 803.2,570.2 812.0,569.3 820.9,569.8 829.8,569.9 838.6,570.0 847.5,570.6 856.3,570.8 865.1,571.6 874.0,571.6 882.9,572.1 891.7,571.9 900.5,572.1 909.4,572.3 918.2,572.7 927.1,573.3 936.0,573.1 944.8,572.9 953.6,572.6 962.5,572.5 971.4,572.4 980.2,571.5 989.0,570.9 997.9,570.4 1006.8,569.3 1015.6,566.4 1024.5,566.2 1033.3,567.0 1042.2,565.1 1051.0,565.8 1059.8,563.5 1068.7,559.8 1077.5,562.9 1086.4,559.1 1095.2,558.5 1104.1,554.4 1112.9,556.8 1121.8,557.2 1130.7,556.8 1139.5,552.7 1148.3,540.1 1157.2,556.7 1166.0,558.9 1174.9,553.3 1183.8,546.5 1192.6,551.0 1201.4,551.2 1210.3,551.5 1219.2,543.7 1228.0,542.1 1236.8,528.0 1245.7,523.4 1254.5,520.9 1263.4,518.4 1272.2,510.3 1281.1,502.8 1289.9,508.5 1298.8,495.5 1307.7,500.5 1316.5,479.8 1325.3,470.6 1334.2,484.6 1343.0,483.0 1351.9,481.2 1360.8,453.7" stroke="#A6D854" stroke-opacity="0.50"/>
<polyline points="794.4,560.8 803.2,517.2 812.0,535.9 820.9,532.8 829.8,526.6 838.6,490.1 847.5,526.6 856.3,525.0 865.1,529.7 874.0,545.3 882.9,514.1 891.7,548.4 900.5,551.5 909.4,573.1 918.2,572.6 927.1,570.5 936.0,570.3 944.8,567.9 953.6,566.7 962.5,565.8 971.4,563.9 980.2,563.0 989.0,560.4 997.9,560.1 1006.8,557.3 1015.6,554.0 1024.5,546.5 1033.3,549.7 1042.2,552.4 1051.0,547.6 1059.8,548.2 1068.7,554.2 1077.5,546.6 1086.4,542.8 1095.2,554.5 1104.1,545.0 1112.9,548.5 1121.8,554.0 1130.7,552.8 1139.5,555.2 1148.3,547.1 1157.2,556.6 1166.0,553.2 1174.9,554.0 1183.8,546.7 1192.6,536.8 1201.4,538.5 1210.3,540.4 1219.2,532.3 1228.0,533.8 1236.8,519.4 1245.7,531.7 1254.5,540.2 1263.4,527.3 1272.2,512.8 1281.1,503.4 1289.9,519.5 1298.8,518.4 1307.7,522.5 1316.5,510.5 1325.3,483.0 1334.2,495.5 1343.0,499.9 1351.9,504.6 1360.8,505.9" stroke="#FBB4AE" stroke-opacity="0.50"/>
<polyline points="794.4,565.2 803.2,569.6 812.0,569.0 820.9,567.9 829.8,568.5 838.6,567.6 847.5,566.6 856.3,566.8 865.1,567.6 874.0,566.5 882.9,565.4 891.7,564.1 900.5,563.9 909.4,562.6 918.2,563.4 927.1,561.7 936.0,557.5 944.8,558.5 953.6,554.9 962.5,555.5 971.4,551.6 980.2,547.7 989.0,546.8 997.9,539.2 1006.8,541.6 1015.6,534.0 1024.5,537.7 1033.3,540.2 1042.2,542.1 1051.0,541.7 1059.8,528.0 1068.7,535.7 1077.5,534.7 1086.4,541.0 1095.2,539.0 1104.1,520.5 1112.9,520.9 1121.8,523.4 1130.7,508.8 1139.5,524.1 1148.3,485.2 1157.2,525.8 1166.0,506.0 1174.9,493.4 1183.8,505.5 1192.6,506.9 1201.4,509.5 1210.3,504.4 1219.2,504.1 1228.0,507.9 1236.8,461.3 1245.7,494.6 1254.5,513.5 1263.4,498.3 1272.2,497.2 1281.1,468.8 1289.9,491.2 1298.8,484.9 1307.7,495.4 1316.5,483.7 1325.3,429.3 1334.2,489.3 1343.0,445.7 1351.9,443.6 1360.8,463.0" stroke="#AAAAAA" stroke-opacity="0.50"/>
<polyline points="794.4,566.0 803.2,547.5 812.0,546.8 820.9,547.0 829.8,551.2 838.6,547.8 847.5,539.1 856.3,547.5 865.1,549.1 874.0,552.3 882.9,553.6 891.7,544.5 900.5,548.1 909.4,548.9 918.2,548.8 927.1,543.2 936.0,543.4 944.8,538.7 953.6,545.4 962.5,555.0 971.4,532.9 980.2,538.3 989.0,543.6 997.9,550.0 1006.8,538.7 1015.6,532.8 1024.5,538.9 1033.3,529.9 1042.2,548.3 1051.0,541.0 1059.8,528.4 1068.7,535.7 1077.5,530.1 1086.4,527.9 1095.2,529.1 1104.1,515.5 1112.9,523.2 1121.8,509.8 1130.7,523.4 1139.5,519.7 1148.3,473.4 1157.2,491.2 1166.0,516.0 1174.9,512.6 1183.8,476.0 1192.6,488.6 1201.4,506.5 1210.3,500.8 1219.2,483.3 1228.0,485.5 1236.8,455.4 1245.7,501.6 1254.5,502.0 1263.4,483.0 1272.2,478.0 1281.1,459.5 1289.9,464.0 1298.8,427.8 1307.7,416.4 1316.5,431.9 1325.3,387.8 1334.2,437.5 1343.0,405.0 1351.9,386.8 1360.8,395.9" stroke="#FC8D62" stroke-opacity="0.50"/>
<polyline points="794.4,565.5 803.2,562.2 812.0,562.3 820.9,561.3 829.8,559.5 838.6,560.1 847.5,561.2 856.3,563.5 865.1,563.9 874.0,565.3 882.9,566.7 891.7,565.3 900.5,566.1 909.4,565.7 918.2,565.8 927.1,562.6 936.0,565.0 944.8,560.6 953.6,560.7 962.5,561.8 971.4,557.2 980.2,556.1 989.0,554.7 997.9,555.4 1006.8,550.7 1015.6,547.5 1024.5,551.9 1033.3,557.0 1042.2,556.0 1051.0,560.1 1059.8,545.3 1068.7,552.7 1077.5,550.3 1086.4,544.0 1095.2,552.2 1104.1,541.1 1112.9,538.9 1121.8,537.6 1130.7,526.0 1139.5,533.1 1148.3,494.6 1157.2,520.5 1166.0,512.7 1174.9,523.7 1183.8,515.6 1192.6,496.0 1201.4,504.3 1210.3,511.6 1219.2,504.6 1228.0,493.4 1236.8,453.3 1245.7,507.7 1254.5,477.5 1263.4,482.7 1272.2,476.8 1281.1,460.5 1289.9,481.8 1298.8,459.5 1307.7,442.1 1316.5,465.5 1325.3,448.0 1334.2,427.8 1343.0,447.3 1351.9,441.7 1360.8,441.1" stroke="#FFD92F" stroke-opacity="0.50"/>
<polyline points="794.4,559.6 803.2,573.0 812.0,573.1 820.9,573.2 829.8,573.3 838.6,573.3 847.5,573.3 856.3,573.3 865.1,573.3 874.0,573.3 882.9,573.3 891.7,573.3 900.5,573.3 909.4,573.3 918.2,573.3 927.1,573.3 936.0,573.1 944.8,573.0 953.6,572.9 962.5,572.5 971.4,572.5 980.2,571.2 989.0,545.3 997.9,542.2 1006.8,537.5 1015.6,534.4 1024.5,526.6 1033.3,535.9 1042.2,540.6 1051.0,528.1 1059.8,534.4 1068.7,528.1 1077.5,553.6 1086.4,553.4 1095.2,549.4 1104.1,536.7 1112.9,542.5 1121.8,532.8 1130.7,549.2 1139.5,539.5 1148.3,522.9 1157.2,538.9 1166.0,542.1 1174.9,534.3 1183.8,537.2 1192.6,533.9 1201.4,548.5 1210.3,537.1 1219.2,535.0 1228.0,539.7 1236.8,535.2 1245.7,537.3 1254.5,524.6 1263.4,514.7 1272.2,521.5 1281.1,513.1 1289.9,520.5 1298.8,516.5 1307.7,504.4 1316.5,501.5 1325.3,460.6 1334.2,466.4 1343.0,474.1 1351.9,497.6 1360.8,482.4" stroke="#AAAAAA" stroke-opacity="0.50"/>
<polyline points="794.4,568.8 803.2,551.9 812.0,549.2 820.9,548.4 829.8,552.9 838.6,552.3 847.5,553.4 856.3,553.1 865.1,552.0 874.0,556.9 882.9,554.6 891.7,546.4 900.5,548.3 909.4,551.8 918.2,546.0 927.1,535.5 936.0,539.8 944.8,539.8 953.6,537.1 962.5,540.5 971.4,531.8 980.2,527.1 989.0,537.2 997.9,540.7 1006.8,535.8 1015.6,524.6 1024.5,531.6 1033.3,534.3 1042.2,522.8 1051.0,519.0 1059.8,512.4 1068.7,524.4 1077.5,521.3 1086.4,511.2 1095.2,520.3 1104.1,505.5 1112.9,522.7 1121.8,511.7 1130.7,496.5 1139.5,527.6 1148.3,471.9 1157.2,505.7 1166.0,483.4 1174.9,492.8 1183.8,490.7 1192.6,464.3 1201.4,477.7 1210.3,476.4 1219.2,457.9 1228.0,480.1 1236.8,431.5 1245.7,434.3 1254.5,460.0 1263.4,471.7 1272.2,441.9 1281.1,431.3 1289.9,483.8 1298.8,449.0 1307.7,444.4 1316.5,460.5 1325.3,393.3 1334.2,431.3 1343.0,423.6 1351.9,401.6 1360.8,411.2" stroke="#FC8D62" stroke-opacity="0.50"/>
<polyline points="794.4,561.3 803.2,565.7 812.0,566.5 820.9,566.3 829.8,563.3 838.6,563.1 847.5,563.9 856.3,563.0 865.1,562.7 874.0,562.6 882.9,564.5 891.7,560.1 900.5,563.2 909.4,561.7 918.2,563.6 927.1,559.0 936.0,558.4 944.8,558.7 953.6,549.6 962.5,558.8 971.4,551.0 980.2,540.9 989.0,549.3 997.9,536.3 1006.8,514.9 1015.6,525.9 1024.5,535.9 1033.3,525.1 1042.2,537.8 1051.0,518.9 1059.8,513.3 1068.7,534.5 1077.5,544.0 1086.4,527.7 1095.2,540.7 1104.1,526.0 1112.9,536.0 1121.8,539.0 1130.7,536.6 1139.5,529.2 1148.3,521.2 1157.2,516.7 1166.0,508.1 1174.9,517.1 1183.8,518.6 1192.6,502.5 1201.4,499.6 1210.3,503.9 1219.2,492.3 1228.0,500.1 1236.8,483.6 1245.7,472.1 1254.5,473.0 1263.4,475.4 1272.2,462.0 1281.1,446.9 1289.9,477.1 1298.8,434.4 1307.7,419.5 1316.5,432.9 1325.3,403.0 1334.2,445.2 1343.0,421.6 1351.9,408.4 1360.8,412.2" stroke="#B0CCE3" stroke-opacity="0.50"/>
<polyline points="794.4,560.5 803.2,570.3 812.0,570.4 820.9,569.8 829.8,570.7 838.6,570.2 847.5,570.5 856.3,570.3 865.1,571.0 874.0,570.4 882.9,570.6 891.7,570.9 900.5,571.2 909.4,571.2 918.2,570.8 927.1,570.3 936.0,570.0 944.8,569.1 953.6,568.0 962.5,566.7 971.4,564.6 980.2,563.2 989.0,562.4 997.9,561.3 1006.8,561.1 1015.6,555.6 1024.5,560.2 1033.3,562.0 1042.2,562.7 1051.0,556.4 1059.8,551.2 1068.7,557.1 1077.5,556.7 1086.4,552.6 1095.2,550.1 1104.1,553.3 1112.9,550.9 1121.8,551.8 1130.7,549.9 1139.5,542.2 1148.3,523.3 1157.2,532.5 1166.0,531.7 1174.9,527.5 1183.8,532.1 1192.6,501.4 1201.4,519.3 1210.3,507.0 1219.2,507.9 1228.0,506.9 1236.8,465.8 1245.7,480.1 1254.5,476.8 1263.4,500.1 1272.2,485.7 1281.1,482.3 1289.9,487.0 1298.8,474.8 1307.7,464.3 1316.5,448.7 1325.3,352.2 1334.2,417.6 1343.0,433.1 1351.9,417.6 1360.8,402.0" stroke="#FBB4AE" stroke-opacity="0.50"/>
<polyline points="794.4,553.5 803.2,570.7 812.0,570.5 820.9,569.6 829.8,570.4 838.6,569.2 847.5,569.2 856.3,568.1 865.1,565.2 874.0,566.5 882.9,565.2 891.7,562.1 900.5,564.4 909.4,561.0 918.2,562.4 927.1,559.6 936.0,560.2 944.8,556.6 953.6,558.4 962.5,556.7 971.4,553.5 980.2,556.3 989.0,551.2 997.9,551.8 1006.8,549.7 1015.6,550.9 1024.5,550.4 1033.3,550.2 1042.2,547.6 1051.0,545.3 1059.8,539.1 1068.7,544.3 1077.5,546.7 1086.4,544.1 1095.2,536.6 1104.1,536.8 1112.9,532.5 1121.8,525.8 1130.7,516.1 1139.5,509.5 1148.3,496.5 1157.2,500.4 1166.0,521.2 1174.9,510.9 1183.8,496.5 1192.6,499.0 1201.4,504.5 1210.3,483.2 1219.2,512.8 1228.0,513.2 1236.8,514.7 1245.7,507.4 1254.5,494.7 1263.4,505.1 1272.2,503.8 1281.1,449.8 1289.9,496.2 1298.8,492.0 1307.7,488.0 1316.5,496.2 1325.3,451.0 1334.2,454.0 1343.0,450.3 1351.9,447.5 1360.8,466.5" stroke="#A6D854" stroke-opacity="0.50"/>
<polyline points="794.4,352.2 803.2,564.0 812.0,572.7 820.9,572.3 829.8,571.4 838.6,570.4 847.5,570.3 856.3,570.5 865.1,569.9 874.0,570.4 882.9,570.5 891.7,570.7 900.5,571.6 909.4,571.5 918.2,572.0 927.1,572.3 936.0,572.2 944.8,570.9 953.6,570.0 962.5,567.6 971.4,565.4 980.2,565.0 989.0,556.8 997.9,558.2 1006.8,553.6 1015.6,549.7 1024.5,548.4 1033.3,552.6 1042.2,552.2 1051.0,549.9 1059.8,549.1 1068.7,556.1 1077.5,557.0 1086.4,553.5 1095.2,550.4 1104.1,547.4 1112.9,552.8 1121.8,550.1 1130.7,541.8 1139.5,551.2 1148.3,532.1 1157.2,547.6 1166.0,542.3 1174.9,538.5 1183.8,539.1 1192.6,529.1 1201.4,541.9 1210.3,531.4 1219.2,524.0 1228.0,532.3 1236.8,486.7 1245.7,519.9 1254.5,516.6 1263.4,508.9 1272.2,532.0 1281.1,493.0 1289.9,504.8 1298.8,521.2 1307.7,501.2 1316.5,498.3 1325.3,504.0 1334.2,478.7 1343.0,492.6 1351.9,497.8 1360.8,505.6" stroke="#AAAAAA" stroke-opacity="0.50"/>
<polyline points="794.4,567.7 803.2,571.2 812.0,571.0 820.9,570.9 829.8,571.3 838.6,570.9 847.5,570.6 856.3,571.4 865.1,571.7 874.0,572.1 882.9,572.3 891.7,572.5 900.5,572.6 909.4,572.6 918.2,572.5 927.1,571.4 936.0,570.4 944.8,569.8 953.6,565.4 962.5,565.5 971.4,562.3 980.2,556.7 989.0,555.4 997.9,558.3 1006.8,553.6 1015.6,547.6 1024.5,548.8 1033.3,542.1 1042.2,550.3 1051.0,550.8 1059.8,546.1 1068.7,545.6 1077.5,548.5 1086.4,544.1 1095.2,538.2 1104.1,536.1 1112.9,541.6 1121.8,539.4 1130.7,540.9 1139.5,538.9 1148.3,521.3 1157.2,522.7 1166.0,529.2 1174.9,521.4 1183.8,515.9 1192.6,484.3 1201.4,521.4 1210.3,489.2 1219.2,509.6 1228.0,501.8 1236.8,465.9 1245.7,486.1 1254.5,489.3 1263.4,501.9 1272.2,486.0 1281.1,462.4 1289.9,493.7 1298.8,467.9 1307.7,474.5 1316.5,480.4 1325.3,454.6 1334.2,455.7 1343.0,476.2 1351.9,495.0 1360.8,467.3" stroke="#A6D854" stroke-opacity="0.50"/>
<polyline points="794.4,570.6 803.2,560.2 812.0,560.6 820.9,562.5 829.8,562.4 838.6,561.5 847.5,559.9 856.3,563.3 865.1,562.0 874.0,561.7 882.9,563.6 891.7,566.0 900.5,564.7 909.4,564.1 918.2,564.8 927.1,564.5 936.0,561.1 944.8,554.2 953.6,552.1 962.5,553.8 971.4,552.3 980.2,550.1 989.0,533.8 997.9,540.9 1006.8,530.7 1015.6,525.0 1024.5,534.6 1033.3,520.3 1042.2,521.0 1051.0,531.8 1059.8,515.1 1068.7,527.9 1077.5,532.4 1086.4,526.9 1095.2,538.6 1104.1,514.6 1112.9,526.6 1121.8,522.6 1130.7,508.7 1139.5,519.2 1148.3,475.8 1157.2,519.0 1166.0,497.7 1174.9,488.8 1183.8,513.0 1192.6,484.3 1201.4,496.3 1210.3,499.0 1219.2,487.5 1228.0,461.5 1236.8,449.3 1245.7,458.7 1254.5,470.1 1263.4,462.0 1272.2,427.0 1281.1,456.5 1289.9,427.5 1298.8,439.9 1307.7,436.2 1316.5,456.5 1325.3,428.4 1334.2,450.4 1343.0,447.6 1351.9,379.7 1360.8,443.9" stroke="#8DA0CB" stroke-opacity="0.50"/>
<polyline points="794.4,567.5 803.2,566.1 812.0,567.2 820.9,567.7 829.8,567.1 838.6,569.3 847.5,569.8 856.3,570.1 865.1,571.0 874.0,571.7 882.9,570.7 891.7,570.3 900.5,570.1 909.4,567.3 918.2,564.0 927.1,560.0 936.0,557.4 944.8,552.3 953.6,553.3 962.5,551.2 971.4,548.5 980.2,549.6 989.0,542.9 997.9,550.0 1006.8,544.9 1015.6,535.8 1024.5,544.8 1033.3,546.8 1042.2,549.3 1051.0,546.7 1059.8,539.7 1068.7,546.2 1077.5,536.3 1086.4,541.5 1095.2,535.5 1104.1,533.2 1112.9,541.7 1121.8,531.9 1130.7,536.3 1139.5,534.3 1148.3,525.9 1157.2,540.3 1166.0,540.5 1174.9,533.5 1183.8,541.4 1192.6,536.3 1201.4,539.3 1210.3,534.1 1219.2,526.4 1228.0,530.9 1236.8,504.8 1245.7,500.5 1254.5,505.7 1263.4,486.5 1272.2,508.0 1281.1,452.8 1289.9,485.6 1298.8,478.3 1307.7,432.8 1316.5,473.8 1325.3,384.5 1334.2,456.0 1343.0,470.5 1351.9,454.5 1360.8,381.0" stroke="#FFD92F" stroke-opacity="0.50"/>
<polyline points="794.4,521.9 803.2,572.8 812.0,573.0 820.9,572.9 829.8,573.0 838.6,573.2 847.5,573.2 856.3,573.0 865.1,572.9 874.0,572.6 882.9,571.8 891.7,571.0 900.5,569.2 909.4,568.5 918.2,566.5 927.1,566.5 936.0,565.4 944.8,561.5 953.6,558.0 962.5,553.5 971.4,557.9 980.2,556.0 989.0,554.7 997.9,553.0 1006.8,553.9 1015.6,552.9 1024.5,561.0 1033.3,560.5 1042.2,561.3 1051.0,560.3 1059.8,556.9 1068.7,560.7 1077.5,559.4 1086.4,554.2 1095.2,551.0 1104.1,551.2 1112.9,549.4 1121.8,546.2 1130.7,547.4 1139.5,539.5 1148.3,514.8 1157.2,537.1 1166.0,522.3 1174.9,521.7 1183.8,518.1 1192.6,508.7 1201.4,504.0 1210.3,518.5 1219.2,515.9 1228.0,513.1 1236.8,489.2 1245.7,511.0 1254.5,508.8 1263.4,512.7 1272.2,511.8 1281.1,496.5 1289.9,485.2 1298.8,477.9 1307.7,498.2 1316.5,492.5 1325.3,461.2 1334.2,492.9 1343.0,502.4 1351.9,521.7 1360.8,507.2" stroke="#E78AC3" stroke-opacity="0.50"/>
<polyline points="794.4,562.8 803.2,566.5 812.0,565.4 820.9,564.3 829.8,561.1 838.6,562.1 847.5,559.5 856.3,559.2 865.1,559.0 874.0,560.7 882.9,560.3 891.7,559.2 900.5,563.4 909.4,563.0 918.2,563.2 927.1,562.7 936.0,564.7 944.8,562.3 953.6,560.1 962.5,560.4 971.4,553.0 980.2,552.1 989.0,548.7 997.9,547.4 1006.8,543.1 1015.6,538.8 1024.5,534.7 1033.3,535.5 1042.2,543.8 1051.0,547.2 1059.8,528.6 1068.7,533.1 1077.5,535.8 1086.4,541.5 1095.2,532.9 1104.1,540.3 1112.9,532.7 1121.8,535.1 1130.7,533.6 1139.5,539.1 1148.3,506.5 1157.2,537.8 1166.0,533.5 1174.9,535.4 1183.8,531.7 1192.6,523.5 1201.4,523.2 1210.3,526.6 1219.2,524.4 1228.0,520.2 1236.8,504.5 1245.7,499.2 1254.5,481.6 1263.4,496.3 1272.2,459.0 1281.1,487.0 1289.9,461.1 1298.8,484.7 1307.7,453.5 1316.5,479.4 1325.3,400.8 1334.2,465.8 1343.0,481.0 1351.9,427.3 1360.8,447.7" stroke="#E78AC3" stroke-opacity="0.50"/>
<polyline points="794.4,558.4 803.2,573.3 812.0,573.3 820.9,573.3 829.8,573.3 838.6,573.3 847.5,573.3 856.3,573.3 865.1,573.3 874.0,573.3 882.9,573.1 891.7,573.0 900.5,572.8 909.4,572.4 918.2,571.9 927.1,571.2 936.0,570.1 944.8,569.1 953.6,568.3 962.5,568.4 971.4,568.5 980.2,567.8 989.0,568.5 997.9,567.7 1006.8,568.1 1015.6,563.6 1024.5,565.4 1033.3,562.0 1042.2,562.6 1051.0,556.1 1059.8,554.4 1068.7,557.2 1077.5,553.9 1086.4,555.5 1095.2,557.2 1104.1,552.6 1112.9,554.3 1121.8,558.1 1130.7,559.1 1139.5,550.4 1148.3,536.2 1157.2,550.4 1166.0,549.2 1174.9,554.3 1183.8,554.7 1192.6,540.4 1201.4,543.4 1210.3,553.6 1219.2,537.9 1228.0,522.7 1236.8,520.5 1245.7,533.8 1254.5,504.8 1263.4,498.5 1272.2,486.1 1281.1,492.3 1289.9,495.4 1298.8,489.2 1307.7,492.3 1316.5,495.4 1325.3,498.5 1334.2,495.4 1343.0,492.3 1351.9,495.4 1360.8,492.3" stroke="#A6D854" stroke-opacity="0.50"/>
<polyline points="794.4,558.8 803.2,570.5 812.0,569.1 820.9,568.9 829.8,565.6 838.6,566.9 847.5,565.6 856.3,566.3 865.1,568.3 874.0,568.5 882.9,566.3 891.7,568.1 900.5,568.1 909.4,568.9 918.2,568.7 927.1,568.8 936.0,568.6 944.8,568.3 953.6,566.7 962.5,567.1 971.4,565.9 980.2,565.4 989.0,562.4 997.9,555.9 1006.8,559.5 1015.6,546.0 1024.5,556.9 1033.3,556.0 1042.2,556.9 1051.0,551.7 1059.8,548.7 1068.7,554.6 1077.5,550.8 1086.4,552.6 1095.2,553.6 1104.1,550.6 1112.9,550.9 1121.8,547.9 1130.7,544.2 1139.5,538.0 1148.3,526.7 1157.2,546.5 1166.0,537.3 1174.9,522.7 1183.8,523.0 1192.6,527.4 1201.4,529.7 1210.3,514.5 1219.2,512.3 1228.0,506.8 1236.8,475.3 1245.7,513.2 1254.5,503.3 1263.4,491.5 1272.2,504.4 1281.1,448.7 1289.9,433.1 1298.8,402.0 1307.7,392.7 1316.5,386.4 1325.3,389.5 1334.2,383.3 1343.0,361.5 1351.9,361.5 1360.8,367.7" stroke="#8DA0CB" stroke-opacity="0.50"/>
<polyline points="794.4,554.2 803.2,549.6 812.0,548.2 820.9,543.2 829.8,546.5 838.6,554.0 847.5,547.9 856.3,545.1 865.1,551.6 874.0,549.3 882.9,543.9 891.7,543.3 900.5,541.3 909.4,537.9 918.2,546.8 927.1,540.4 936.0,539.3 944.8,531.9 953.6,539.6 962.5,528.6 971.4,538.9 980.2,536.1 989.0,527.4 997.9,538.8 1006.8,535.0 1015.6,520.8 1024.5,521.5 1033.3,522.7 1042.2,525.6 1051.0,514.8 1059.8,522.3 1068.7,505.5 1077.5,516.6 1086.4,508.8 1095.2,510.3 1104.1,492.9 1112.9,495.6 1121.8,506.5 1130.7,506.6 1139.5,496.2 1148.3,469.2 1157.2,459.2 1166.0,496.0 1174.9,485.3 1183.8,494.3 1192.6,462.4 1201.4,457.2 1210.3,451.6 1219.2,461.2 1228.0,468.0 1236.8,438.4 1245.7,444.2 1254.5,433.6 1263.4,454.6 1272.2,442.2 1281.1,409.0 1289.9,450.4 1298.8,430.9 1307.7,416.6 1316.5,378.8 1325.3,411.1 1334.2,388.4 1343.0,396.3 1351.9,381.7 1360.8,394.6" stroke="#8DA0CB" stroke-opacity="0.50"/>
<polyline points="794.4,560.8 803.2,572.4 812.0,572.4 820.9,572.6 829.8,572.4 838.6,572.3 847.5,571.5 856.3,570.7 865.1,570.2 874.0,568.9 882.9,567.2 891.7,565.0 900.5,564.3 909.4,562.6 918.2,561.9 927.1,555.3 936.0,554.1 944.8,558.1 953.6,553.5 962.5,547.6 971.4,549.5 980.2,552.4 989.0,550.6 997.9,549.1 1006.8,550.2 1015.6,543.6 1024.5,552.0 1033.3,548.5 1042.2,555.5 1051.0,553.0 1059.8,550.4 1068.7,551.2 1077.5,544.8 1086.4,550.1 1095.2,550.1 1104.1,539.5 1112.9,545.5 1121.8,549.7 1130.7,546.7 1139.5,543.8 1148.3,523.1 1157.2,543.0 1166.0,531.4 1174.9,550.1 1183.8,546.6 1192.6,536.3 1201.4,539.6 1210.3,543.0 1219.2,546.2 1228.0,533.2 1236.8,517.9 1245.7,525.0 1254.5,526.3 1263.4,516.5 1272.2,490.9 1281.1,494.6 1289.9,478.8 1298.8,487.9 1307.7,492.5 1316.5,470.3 1325.3,446.5 1334.2,469.8 1343.0,448.1 1351.9,466.7 1360.8,463.5" stroke="#E78AC3" stroke-opacity="0.50"/>
<polyline points="794.4,569.4 803.2,560.7 812.0,559.1 820.9,557.7 829.8,558.6 838.6,557.7 847.5,556.7 856.3,555.8 865.1,548.7 874.0,555.5 882.9,549.1 891.7,550.3 900.5,551.9 909.4,538.1 918.2,538.2 927.1,546.2 936.0,525.1 944.8,522.3 953.6,531.7 962.5,518.9 971.4,535.8 980.2,537.6 989.0,534.2 997.9,534.3 1006.8,535.1 1015.6,538.2 1024.5,534.0 1033.3,542.9 1042.2,543.3 1051.0,534.6 1059.8,533.9 1068.7,547.6 1077.5,529.5 1086.4,540.6 1095.2,538.1 1104.1,523.6 1112.9,528.9 1121.8,533.5 1130.7,520.0 1139.5,506.1 1148.3,482.0 1157.2,511.6 1166.0,503.2 1174.9,508.2 1183.8,513.8 1192.6,507.5 1201.4,518.2 1210.3,473.3 1219.2,494.8 1228.0,523.2 1236.8,471.5 1245.7,504.8 1254.5,488.6 1263.4,474.6 1272.2,490.6 1281.1,478.8 1289.9,437.4 1298.8,464.7 1307.7,464.5 1316.5,450.9 1325.3,410.7 1334.2,408.6 1343.0,430.1 1351.9,398.5 1360.8,430.8" stroke="#8DA0CB" stroke-opacity="0.50"/>
<polyline points="794.4,571.0 803.2,570.7 812.0,569.6 820.9,570.5 829.8,570.0 838.6,569.7 847.5,570.6 856.3,570.7 865.1,570.3 874.0,570.5 882.9,570.2 891.7,569.7 900.5,569.8 909.4,570.2 918.2,569.3 927.1,548.4 936.0,537.5 944.8,537.5 953.6,534.4 962.5,521.9 971.4,566.0 980.2,563.1 989.0,558.9 997.9,559.8 1006.8,552.8 1015.6,550.8 1024.5,555.6 1033.3,553.8 1042.2,547.1 1051.0,539.8 1059.8,531.4 1068.7,545.1 1077.5,543.3 1086.4,548.0 1095.2,547.7 1104.1,538.8 1112.9,541.4 1121.8,546.8 1130.7,545.2 1139.5,545.5 1148.3,531.3 1157.2,539.0 1166.0,529.6 1174.9,514.6 1183.8,515.1 1192.6,481.6 1201.4,522.4 1210.3,496.3 1219.2,492.1 1228.0,516.6 1236.8,508.5 1245.7,514.6 1254.5,488.0 1263.4,501.6 1272.2,503.2 1281.1,490.5 1289.9,502.1 1298.8,492.3 1307.7,481.5 1316.5,476.8 1325.3,476.4 1334.2,473.5 1343.0,460.8 1351.9,471.2 1360.8,474.9" stroke="#E78AC3" stroke-opacity="0.50"/>
<polyline points="794.4,557.3 803.2,564.8 812.0,564.6 820.9,562.6 829.8,564.3 838.6,564.3 847.5,564.7 856.3,562.9 865.1,563.5 874.0,562.3 882.9,562.1 891.7,560.3 900.5,558.6 909.4,555.2 918.2,555.5 927.1,541.6 936.0,550.4 944.8,549.4 953.6,546.1 962.5,550.0 971.4,543.4 980.2,543.1 989.0,542.8 997.9,524.5 1006.8,534.6 1015.6,526.4 1024.5,534.7 1033.3,539.1 1042.2,519.4 1051.0,531.1 1059.8,522.3 1068.7,537.2 1077.5,529.4 1086.4,528.6 1095.2,532.0 1104.1,518.5 1112.9,519.3 1121.8,512.1 1130.7,501.4 1139.5,522.5 1148.3,496.9 1157.2,512.1 1166.0,515.9 1174.9,520.8 1183.8,513.9 1192.6,496.3 1201.4,508.9 1210.3,504.8 1219.2,498.7 1228.0,502.0 1236.8,457.9 1245.7,499.7 1254.5,464.0 1263.4,475.0 1272.2,471.7 1281.1,447.5 1289.9,457.1 1298.8,467.3 1307.7,436.1 1316.5,459.1 1325.3,422.2 1334.2,457.6 1343.0,456.0 1351.9,426.3 1360.8,414.4" stroke="#E78AC3" stroke-opacity="0.50"/>
<polyline points="794.4,566.0 803.2,562.7 812.0,560.2 820.9,561.4 829.8,564.3 838.6,566.4 847.5,566.8 856.3,567.5 865.1,565.7 874.0,566.5 882.9,564.1 891.7,565.0 900.5,563.8 909.4,560.2 918.2,562.0 927.1,554.2 936.0,554.6 944.8,552.1 953.6,552.3 962.5,543.5 971.4,545.1 980.2,545.2 989.0,535.2 997.9,537.3 1006.8,518.0 1015.6,532.9 1024.5,524.2 1033.3,533.8 1042.2,525.9 1051.0,540.4 1059.8,527.2 1068.7,540.7 1077.5,543.5 1086.4,545.2 1095.2,546.0 1104.1,540.6 1112.9,535.9 1121.8,541.0 1130.7,524.8 1139.5,535.6 1148.3,519.9 1157.2,529.3 1166.0,521.1 1174.9,518.9 1183.8,510.6 1192.6,491.9 1201.4,502.5 1210.3,483.5 1219.2,483.0 1228.0,465.7 1236.8,464.0 1245.7,496.5 1254.5,477.9 1263.4,477.0 1272.2,461.7 1281.1,446.9 1289.9,479.2 1298.8,466.8 1307.7,466.4 1316.5,435.6 1325.3,440.1 1334.2,418.1 1343.0,441.5 1351.9,446.2 1360.8,387.4" stroke="#8DA0CB" stroke-opacity="0.50"/>
<polyline points="794.4,568.1 803.2,554.5 812.0,549.0 820.9,545.3 829.8,553.4 838.6,550.0 847.5,550.2 856.3,542.5 865.1,540.9 874.0,550.2 882.9,545.6 891.7,537.3 900.5,541.0 909.4,538.4 918.2,532.8 927.1,537.6 936.0,528.9 944.8,535.0 953.6,529.4 962.5,525.6 971.4,525.9 980.2,528.0 989.0,525.8 997.9,529.8 1006.8,523.4 1015.6,523.6 1024.5,517.5 1033.3,535.4 1042.2,527.8 1051.0,507.5 1059.8,509.6 1068.7,507.6 1077.5,508.4 1086.4,516.0 1095.2,507.5 1104.1,492.6 1112.9,505.6 1121.8,502.1 1130.7,501.5 1139.5,469.1 1148.3,485.9 1157.2,483.6 1166.0,475.5 1174.9,485.8 1183.8,480.5 1192.6,471.5 1201.4,435.6 1210.3,479.5 1219.2,432.1 1228.0,481.4 1236.8,448.4 1245.7,448.4 1254.5,467.3 1263.4,442.0 1272.2,450.4 1281.1,410.9 1289.9,421.1 1298.8,414.4 1307.7,411.0 1316.5,437.7 1325.3,404.3 1334.2,411.8 1343.0,387.0 1351.9,372.5 1360.8,399.7" stroke="#8DA0CB" stroke-opacity="0.50"/>
<polyline points="794.4,562.8 803.2,552.5 812.0,546.5 820.9,543.2 829.8,541.0 838.6,537.4 847.5,545.1 856.3,541.6 865.1,544.4 874.0,545.9 882.9,544.7 891.7,543.6 900.5,543.3 909.4,534.0 918.2,548.0 927.1,540.2 936.0,551.5 944.8,547.7 953.6,544.3 962.5,542.1 971.4,542.2 980.2,536.1 989.0,546.0 997.9,533.9 1006.8,541.6 1015.6,525.7 1024.5,541.2 1033.3,527.2 1042.2,531.8 1051.0,532.7 1059.8,510.3 1068.7,515.4 1077.5,523.5 1086.4,526.4 1095.2,516.1 1104.1,502.8 1112.9,494.7 1121.8,511.8 1130.7,506.0 1139.5,505.5 1148.3,484.8 1157.2,505.5 1166.0,491.8 1174.9,501.6 1183.8,509.1 1192.6,469.8 1201.4,496.6 1210.3,450.9 1219.2,456.4 1228.0,453.6 1236.8,450.5 1245.7,472.5 1254.5,440.4 1263.4,434.1 1272.2,419.7 1281.1,425.9 1289.9,416.1 1298.8,410.0 1307.7,426.8 1316.5,419.2 1325.3,403.9 1334.2,407.0 1343.0,392.9 1351.9,385.0 1360.8,384.2" stroke="#E78AC3" stroke-opacity="0.50"/>
<polyline points="794.4,554.8 803.2,549.4 812.0,555.3 820.9,549.1 829.8,545.9 838.6,549.0 847.5,547.1 856.3,547.6 865.1,542.1 874.0,544.4 882.9,541.9 891.7,534.4 900.5,547.0 909.4,536.1 918.2,538.1 927.1,546.6 936.0,530.8 944.8,529.7 953.6,536.6 962.5,530.1 971.4,532.9 980.2,531.9 989.0,530.7 997.9,522.4 1006.8,526.2 1015.6,530.0 1024.5,515.7 1033.3,524.8 1042.2,539.8 1051.0,533.3 1059.8,506.9 1068.7,518.1 1077.5,512.8 1086.4,515.5 1095.2,519.2 1104.1,510.5 1112.9,523.9 1121.8,495.2 1130.7,511.0 1139.5,511.0 1148.3,479.9 1157.2,507.9 1166.0,504.8 1174.9,501.7 1183.8,479.9 1192.6,458.1 1201.4,476.7 1210.3,489.2 1219.2,488.3 1228.0,462.1 1236.8,444.7 1245.7,459.8 1254.5,466.5 1263.4,458.2 1272.2,484.8 1281.1,442.8 1289.9,479.1 1298.8,430.2 1307.7,393.8 1316.5,441.5 1325.3,398.3 1334.2,439.6 1343.0,459.5 1351.9,437.2 1360.8,428.2" stroke="#FC8D62" stroke-opacity="0.50"/>
<polyline points="794.4,555.8 803.2,568.7 812.0,567.8 820.9,567.7 829.8,566.4 838.6,565.0 847.5,566.5 856.3,563.4 865.1,561.9 874.0,563.7 882.9,563.2 891.7,562.2 900.5,558.5 909.4,560.5 918.2,558.0 927.1,558.0 936.0,557.6 944.8,557.1 953.6,556.7 962.5,553.8 971.4,555.5 980.2,552.3 989.0,551.1 997.9,552.6 1006.8,536.5 1015.6,539.5 1024.5,541.8 1033.3,537.5 1042.2,550.6 1051.0,550.0 1059.8,546.0 1068.7,549.8 1077.5,549.5 1086.4,550.1 1095.2,545.2 1104.1,547.3 1112.9,548.8 1121.8,545.3 1130.7,541.9 1139.5,525.6 1148.3,516.5 1157.2,527.3 1166.0,518.3 1174.9,509.8 1183.8,525.6 1192.6,497.2 1201.4,509.5 1210.3,510.1 1219.2,512.8 1228.0,518.0 1236.8,471.1 1245.7,500.7 1254.5,498.2 1263.4,495.8 1272.2,488.7 1281.1,425.5 1289.9,474.6 1298.8,466.5 1307.7,450.9 1316.5,422.6 1325.3,409.7 1334.2,418.9 1343.0,433.5 1351.9,440.0 1360.8,427.2" stroke="#8DA0CB" stroke-opacity="0.50"/>
<polyline points="794.4,561.9 803.2,558.7 812.0,561.0 820.9,558.5 829.8,561.0 838.6,555.6 847.5,554.0 856.3,551.6 865.1,554.4 874.0,553.9 882.9,550.1 891.7,546.8 900.5,540.9 909.4,540.6 918.2,543.6 927.1,553.2 936.0,535.6 944.8,539.1 953.6,544.4 962.5,544.4 971.4,547.2 980.2,546.9 989.0,546.6 997.9,547.1 1006.8,533.6 1015.6,541.0 1024.5,536.6 1033.3,545.0 1042.2,530.6 1051.0,528.3 1059.8,524.1 1068.7,514.2 1077.5,523.0 1086.4,510.6 1095.2,515.8 1104.1,524.0 1112.9,525.6 1121.8,509.5 1130.7,532.0 1139.5,503.4 1148.3,486.4 1157.2,520.7 1166.0,521.9 1174.9,505.0 1183.8,526.3 1192.6,478.1 1201.4,518.8 1210.3,484.1 1219.2,478.2 1228.0,482.5 1236.8,451.2 1245.7,475.9 1254.5,457.5 1263.4,457.1 1272.2,467.6 1281.1,435.4 1289.9,452.8 1298.8,431.0 1307.7,465.2 1316.5,447.2 1325.3,452.0 1334.2,422.0 1343.0,454.7 1351.9,427.2 1360.8,401.3" stroke="#FBB4AE" stroke-opacity="0.50"/>
<polyline points="794.4,476.7 803.2,548.4 812.0,548.4 820.9,554.6 829.8,551.5 838.6,545.3 847.5,551.5 856.3,545.3 865.1,554.6 874.0,551.5 882.9,569.5 891.7,569.4 900.5,570.2 909.4,569.1 918.2,569.1 927.1,567.7 936.0,567.0 944.8,566.4 953.6,563.8 962.5,565.0 971.4,563.1 980.2,558.2 989.0,556.4 997.9,558.8 1006.8,554.6 1015.6,541.1 1024.5,545.0 1033.3,550.1 1042.2,551.5 1051.0,541.8 1059.8,534.1 1068.7,550.5 1077.5,547.5 1086.4,538.1 1095.2,539.5 1104.1,541.6 1112.9,544.3 1121.8,540.5 1130.7,548.0 1139.5,536.7 1148.3,521.9 1157.2,543.7 1166.0,542.6 1174.9,544.5 1183.8,543.2 1192.6,537.4 1201.4,542.0 1210.3,545.7 1219.2,540.2 1228.0,534.5 1236.8,521.2 1245.7,526.1 1254.5,526.0 1263.4,522.0 1272.2,514.0 1281.1,493.3 1289.9,489.9 1298.8,487.5 1307.7,482.9 1316.5,472.4 1325.3,428.7 1334.2,446.2 1343.0,446.1 1351.9,441.4 1360.8,460.9" stroke="#8DA0CB" stroke-opacity="0.50"/>
<polyline points="794.4,552.6 803.2,573.2 812.0,573.1 820.9,572.8 829.8,572.8 838.6,572.4 847.5,572.5 856.3,572.5 865.1,572.8 874.0,573.0 882.9,573.3 891.7,573.3 900.5,573.3 909.4,573.3 918.2,573.3 927.1,573.3 936.0,573.1 944.8,572.9 953.6,572.8 962.5,572.5 971.4,572.2 980.2,571.9 989.0,570.0 997.9,569.2 1006.8,568.4 1015.6,561.9 1024.5,564.0 1033.3,559.8 1042.2,559.2 1051.0,556.5 1059.8,549.5 1068.7,553.1 1077.5,549.4 1086.4,546.9 1095.2,545.6 1104.1,548.1 1112.9,548.2 1121.8,551.2 1130.7,536.5 1139.5,548.8 1148.3,534.0 1157.2,538.3 1166.0,533.2 1174.9,514.3 1183.8,520.9 1192.6,512.6 1201.4,522.0 1210.3,508.9 1219.2,506.2 1228.0,499.6 1236.8,475.4 1245.7,491.2 1254.5,494.2 1263.4,499.8 1272.2,487.7 1281.1,459.1 1289.9,483.8 1298.8,499.5 1307.7,501.0 1316.5,481.2 1325.3,447.7 1334.2,453.5 1343.0,465.0 1351.9,471.9 1360.8,471.1" stroke="#E78AC3" stroke-opacity="0.50"/>
<polyline points="794.4,556.5 803.2,571.4 812.0,570.4 820.9,570.5 829.8,570.1 838.6,570.6 847.5,569.9 856.3,569.5 865.1,570.2 874.0,569.7 882.9,568.3 891.7,568.4 900.5,567.7 909.4,568.9 918.2,568.3 927.1,568.0 936.0,568.1 944.8,565.9 953.6,568.1 962.5,565.8 971.4,564.7 980.2,563.3 989.0,559.0 997.9,553.6 1006.8,556.6 1015.6,550.8 1024.5,546.9 1033.3,542.5 1042.2,548.5 1051.0,543.2 1059.8,532.7 1068.7,550.1 1077.5,544.1 1086.4,538.4 1095.2,538.1 1104.1,525.4 1112.9,532.4 1121.8,514.5 1130.7,516.3 1139.5,519.5 1148.3,482.6 1157.2,515.4 1166.0,500.8 1174.9,509.6 1183.8,513.2 1192.6,494.5 1201.4,493.5 1210.3,507.8 1219.2,515.8 1228.0,492.2 1236.8,452.9 1245.7,483.1 1254.5,492.7 1263.4,482.5 1272.2,505.4 1281.1,446.5 1289.9,463.0 1298.8,481.2 1307.7,462.4 1316.5,459.6 1325.3,413.3 1334.2,449.3 1343.0,489.1 1351.9,443.5 1360.8,444.2" stroke="#E78AC3" stroke-opacity="0.50"/>
<polyline points="794.4,554.4 803.2,554.0 812.0,550.7 820.9,549.4 829.8,553.7 838.6,546.1 847.5,546.0 856.3,546.6 865.1,540.2 874.0,543.8 882.9,550.3 891.7,542.6 900.5,551.4 909.4,545.4 918.2,545.2 927.1,545.1 936.0,548.4 944.8,538.6 953.6,534.8 962.5,537.2 971.4,536.6 980.2,529.2 989.0,543.9 997.9,533.0 1006.8,541.9 1015.6,532.4 1024.5,534.4 1033.3,527.5 1042.2,533.2 1051.0,519.8 1059.8,521.1 1068.7,528.9 1077.5,531.8 1086.4,535.7 1095.2,535.7 1104.1,530.9 1112.9,529.7 1121.8,531.1 1130.7,536.4 1139.5,526.1 1148.3,511.4 1157.2,522.7 1166.0,510.5 1174.9,514.7 1183.8,500.8 1192.6,503.5 1201.4,509.1 1210.3,494.7 1219.2,502.3 1228.0,483.7 1236.8,479.8 1245.7,479.7 1254.5,479.5 1263.4,481.9 1272.2,451.8 1281.1,441.1 1289.9,469.9 1298.8,466.8 1307.7,425.0 1316.5,453.1 1325.3,428.8 1334.2,423.2 1343.0,381.1 1351.9,429.4 1360.8,406.2" stroke="#8DA0CB" stroke-opacity="0.50"/>
<polyline points="794.4,560.6 803.2,571.2 812.0,571.1 820.9,571.1 829.8,571.2 838.6,572.2 847.5,572.2 856.3,572.6 865.1,572.9 874.0,573.2 882.9,573.2 891.7,573.2 900.5,573.1 909.4,572.8 918.2,572.4 927.1,571.7 936.0,570.7 944.8,568.7 953.6,566.1 962.5,565.7 971.4,565.4 980.2,564.4 989.0,561.7 997.9,558.0 1006.8,557.7 1015.6,554.5 1024.5,559.2 1033.3,554.3 1042.2,554.3 1051.0,551.0 1059.8,545.9 1068.7,555.3 1077.5,546.2 1086.4,550.3 1095.2,545.9 1104.1,532.7 1112.9,547.3 1121.8,542.7 1130.7,534.4 1139.5,547.6 1148.3,533.1 1157.2,540.5 1166.0,539.2 1174.9,539.0 1183.8,527.3 1192.6,501.5 1201.4,523.6 1210.3,519.5 1219.2,524.1 1228.0,529.8 1236.8,503.7 1245.7,526.2 1254.5,523.6 1263.4,505.3 1272.2,504.9 1281.1,471.9 1289.9,490.3 1298.8,497.5 1307.7,465.6 1316.5,466.3 1325.3,455.3 1334.2,479.9 1343.0,432.8 1351.9,449.9 1360.8,459.4" stroke="#E78AC3" stroke-opacity="0.50"/>
<polyline points="794.4,571.4 803.2,546.0 812.0,542.4 820.9,539.9 829.8,549.6 838.6,555.6 847.5,550.8 856.3,549.2 865.1,550.4 874.0,549.5 882.9,549.0 891.7,550.0 900.5,543.8 909.4,543.6 918.2,539.8 927.1,539.9 936.0,535.4 944.8,542.8 953.6,532.6 962.5,525.6 971.4,545.3 980.2,542.6 989.0,531.4 997.9,539.8 1006.8,535.4 1015.6,526.6 1024.5,533.2 1033.3,548.3 1042.2,540.3 1051.0,534.0 1059.8,513.0 1068.7,526.6 1077.5,523.9 1086.4,540.5 1095.2,529.7 1104.1,523.7 1112.9,509.8 1121.8,517.9 1130.7,514.3 1139.5,512.6 1148.3,484.1 1157.2,518.1 1166.0,500.7 1174.9,505.8 1183.8,494.0 1192.6,473.2 1201.4,496.2 1210.3,506.2 1219.2,481.5 1228.0,501.2 1236.8,490.5 1245.7,463.6 1254.5,450.5 1263.4,487.4 1272.2,469.4 1281.1,408.9 1289.9,471.9 1298.8,456.4 1307.7,426.5 1316.5,477.0 1325.3,413.1 1334.2,387.2 1343.0,388.3 1351.9,412.2 1360.8,402.4" stroke="#E78AC3" stroke-opacity="0.50"/>
<polyline points="794.4,561.2 803.2,565.0 812.0,567.2 820.9,566.3 829.8,567.5 838.6,568.2 847.5,568.1 856.3,568.3 865.1,568.1 874.0,568.4 882.9,567.0 891.7,567.9 900.5,565.1 909.4,565.1 918.2,565.6 927.1,561.9 936.0,558.0 944.8,560.9 953.6,554.0 962.5,554.3 971.4,556.4 980.2,554.9 989.0,546.1 997.9,550.0 1006.8,551.9 1015.6,544.9 1024.5,545.7 1033.3,549.8 1042.2,551.8 1051.0,545.5 1059.8,537.4 1068.7,537.9 1077.5,534.7 1086.4,539.4 1095.2,526.1 1104.1,503.9 1112.9,523.9 1121.8,518.6 1130.7,513.3 1139.5,508.3 1148.3,495.5 1157.2,513.2 1166.0,502.7 1174.9,508.2 1183.8,505.7 1192.6,486.4 1201.4,513.2 1210.3,496.6 1219.2,517.7 1228.0,517.3 1236.8,505.1 1245.7,517.6 1254.5,496.8 1263.4,494.9 1272.2,486.8 1281.1,472.5 1289.9,477.0 1298.8,454.9 1307.7,392.7 1316.5,417.6 1325.3,402.0 1334.2,411.3 1343.0,405.1 1351.9,395.8 1360.8,386.4" stroke="#E78AC3" stroke-opacity="0.50"/>
<polyline points="794.4,556.2 803.2,567.2 812.0,567.2 820.9,568.0 829.8,567.5 838.6,565.3 847.5,566.9 856.3,565.3 865.1,563.7 874.0,564.8 882.9,564.6 891.7,564.0 900.5,563.3 909.4,563.0 918.2,561.4 927.1,563.3 936.0,557.8 944.8,557.8 953.6,560.7 962.5,558.0 971.4,558.6 980.2,555.5 989.0,557.0 997.9,557.0 1006.8,552.6 1015.6,553.7 1024.5,553.9 1033.3,549.5 1042.2,556.1 1051.0,554.4 1059.8,549.4 1068.7,542.9 1077.5,549.0 1086.4,545.6 1095.2,548.4 1104.1,545.3 1112.9,539.4 1121.8,531.9 1130.7,535.3 1139.5,524.5 1148.3,488.1 1157.2,515.0 1166.0,515.2 1174.9,523.7 1183.8,502.4 1192.6,480.7 1201.4,508.5 1210.3,504.1 1219.2,514.3 1228.0,489.6 1236.8,466.2 1245.7,500.8 1254.5,470.2 1263.4,477.1 1272.2,480.2 1281.1,419.3 1289.9,439.9 1298.8,446.3 1307.7,478.8 1316.5,463.2 1325.3,439.6 1334.2,464.1 1343.0,448.3 1351.9,442.5 1360.8,438.3" stroke="#E78AC3" stroke-opacity="0.50"/>
<polyline points="794.4,567.6 803.2,556.6 812.0,558.3 820.9,554.7 829.8,554.5 838.6,548.7 847.5,548.4 856.3,554.0 865.1,548.7 874.0,550.3 882.9,548.3 891.7,553.6 900.5,549.5 909.4,546.8 918.2,559.8 927.1,554.3 936.0,560.0 944.8,554.6 953.6,557.9 962.5,555.3 971.4,554.4 980.2,553.7 989.0,559.1 997.9,555.1 1006.8,548.4 1015.6,543.7 1024.5,548.7 1033.3,550.1 1042.2,552.4 1051.0,552.5 1059.8,541.1 1068.7,552.1 1077.5,549.7 1086.4,542.0 1095.2,540.1 1104.1,537.0 1112.9,528.6 1121.8,529.5 1130.7,523.4 1139.5,524.3 1148.3,503.0 1157.2,505.1 1166.0,510.9 1174.9,517.9 1183.8,501.5 1192.6,482.5 1201.4,522.3 1210.3,517.2 1219.2,507.5 1228.0,505.4 1236.8,476.9 1245.7,500.9 1254.5,496.2 1263.4,496.2 1272.2,471.9 1281.1,437.4 1289.9,471.0 1298.8,458.2 1307.7,451.3 1316.5,455.1 1325.3,387.1 1334.2,424.8 1343.0,408.4 1351.9,419.1 1360.8,427.5" stroke="#E78AC3" stroke-opacity="0.50"/>
<polyline points="794.4,554.8 803.2,555.1 812.0,552.6 820.9,556.8 829.8,552.5 838.6,555.9 847.5,557.7 856.3,559.3 865.1,560.1 874.0,556.9 882.9,561.4 891.7,556.4 900.5,557.4 909.4,552.9 918.2,557.9 927.1,549.6 936.0,551.3 944.8,547.9 953.6,551.3 962.5,549.3 971.4,545.3 980.2,549.0 989.0,546.4 997.9,541.9 1006.8,547.1 1015.6,540.7 1024.5,537.1 1033.3,540.5 1042.2,540.6 1051.0,542.8 1059.8,514.3 1068.7,536.5 1077.5,527.4 1086.4,535.1 1095.2,537.5 1104.1,519.0 1112.9,521.2 1121.8,529.5 1130.7,525.7 1139.5,527.3 1148.3,498.4 1157.2,511.2 1166.0,504.0 1174.9,492.4 1183.8,494.3 1192.6,482.5 1201.4,489.5 1210.3,501.0 1219.2,480.9 1228.0,487.9 1236.8,446.8 1245.7,450.3 1254.5,449.7 1263.4,456.8 1272.2,419.9 1281.1,417.9 1289.9,460.1 1298.8,460.4 1307.7,465.3 1316.5,430.6 1325.3,414.4 1334.2,422.8 1343.0,443.7 1351.9,420.2 1360.8,438.4" stroke="#8DA0CB" stroke-opacity="0.50"/>
<polyline points="794.4,561.5 803.2,564.6 812.0,563.3 820.9,562.4 829.8,562.8 838.6,562.1 847.5,561.8 856.3,561.2 865.1,557.9 874.0,561.2 882.9,559.9 891.7,558.4 900.5,560.4 909.4,554.5 918.2,556.1 927.1,554.3 936.0,557.7 944.8,547.0 953.6,550.8 962.5,550.8 971.4,533.6 980.2,547.8 989.0,533.5 997.9,544.2 1006.8,538.4 1015.6,528.9 1024.5,543.7 1033.3,541.8 1042.2,531.2 1051.0,538.0 1059.8,530.6 1068.7,532.9 1077.5,537.3 1086.4,534.9 1095.2,527.7 1104.1,527.6 1112.9,525.8 1121.8,524.2 1130.7,521.5 1139.5,533.0 1148.3,516.5 1157.2,530.3 1166.0,522.3 1174.9,505.8 1183.8,521.7 1192.6,513.2 1201.4,512.9 1210.3,519.7 1219.2,519.2 1228.0,509.5 1236.8,479.1 1245.7,483.1 1254.5,464.3 1263.4,466.8 1272.2,452.1 1281.1,421.8 1289.9,451.1 1298.8,421.2 1307.7,460.6 1316.5,396.8 1325.3,424.2 1334.2,450.2 1343.0,401.9 1351.9,384.9 1360.8,408.8" stroke="#8DA0CB" stroke-opacity="0.50"/>
<polyline points="794.4,571.5 803.2,548.0 812.0,551.4 820.9,543.2 829.8,551.2 838.6,546.1 847.5,543.6 856.3,550.0 865.1,539.6 874.0,549.3 882.9,541.5 891.7,548.4 900.5,537.3 909.4,540.0 918.2,543.7 927.1,532.3 936.0,542.3 944.8,540.5 953.6,536.1 962.5,544.6 971.4,544.1 980.2,537.7 989.0,541.6 997.9,535.2 1006.8,529.8 1015.6,524.3 1024.5,528.0 1033.3,528.3 1042.2,534.5 1051.0,531.8 1059.8,520.5 1068.7,533.7 1077.5,516.7 1086.4,529.0 1095.2,524.3 1104.1,503.0 1112.9,523.8 1121.8,519.8 1130.7,490.7 1139.5,487.4 1148.3,472.3 1157.2,482.3 1166.0,471.2 1174.9,479.2 1183.8,501.6 1192.6,473.4 1201.4,469.4 1210.3,460.2 1219.2,472.6 1228.0,447.3 1236.8,453.6 1245.7,441.1 1254.5,429.3 1263.4,464.1 1272.2,424.0 1281.1,403.4 1289.9,436.3 1298.8,418.1 1307.7,420.9 1316.5,397.2 1325.3,393.8 1334.2,376.6 1343.0,393.9 1351.9,384.2 1360.8,371.6" stroke="#8DA0CB" stroke-opacity="0.50"/>
<polyline points="794.4,562.6 803.2,556.4 812.0,558.3 820.9,554.9 829.8,554.9 838.6,547.8 847.5,544.5 856.3,539.1 865.1,544.8 874.0,533.7 882.9,550.3 891.7,538.9 900.5,539.2 909.4,545.1 918.2,536.9 927.1,546.9 936.0,541.5 944.8,541.6 953.6,539.6 962.5,539.1 971.4,548.6 980.2,542.3 989.0,533.3 997.9,540.8 1006.8,519.7 1015.6,521.8 1024.5,513.5 1033.3,517.5 1042.2,505.3 1051.0,523.0 1059.8,516.1 1068.7,505.7 1077.5,523.0 1086.4,492.2 1095.2,501.5 1104.1,495.6 1112.9,506.2 1121.8,488.9 1130.7,485.8 1139.5,513.1 1148.3,480.4 1157.2,488.7 1166.0,485.8 1174.9,505.6 1183.8,472.9 1192.6,458.3 1201.4,463.8 1210.3,460.9 1219.2,474.7 1228.0,451.1 1236.8,452.1 1245.7,443.5 1254.5,436.2 1263.4,437.0 1272.2,401.3 1281.1,429.7 1289.9,458.1 1298.8,402.0 1307.7,433.2 1316.5,440.0 1325.3,403.4 1334.2,392.6 1343.0,434.2 1351.9,402.9 1360.8,364.4" stroke="#E78AC3" stroke-opacity="0.50"/>
<polyline points="794.4,553.7 803.2,547.2 812.0,542.4 820.9,550.3 829.8,545.1 838.6,542.4 847.5,539.4 856.3,548.0 865.1,543.5 874.0,544.7 882.9,542.6 891.7,543.2 900.5,545.0 909.4,534.0 918.2,540.6 927.1,546.7 936.0,539.1 944.8,541.8 953.6,535.9 962.5,528.8 971.4,537.2 980.2,537.2 989.0,527.3 997.9,531.3 1006.8,543.8 1015.6,536.8 1024.5,537.2 1033.3,546.1 1042.2,530.5 1051.0,537.4 1059.8,515.2 1068.7,532.4 1077.5,519.2 1086.4,530.2 1095.2,515.0 1104.1,502.0 1112.9,507.4 1121.8,500.8 1130.7,499.8 1139.5,492.9 1148.3,474.5 1157.2,486.7 1166.0,498.3 1174.9,499.4 1183.8,497.2 1192.6,467.7 1201.4,492.9 1210.3,503.0 1219.2,481.4 1228.0,495.9 1236.8,453.0 1245.7,496.0 1254.5,455.8 1263.4,451.7 1272.2,470.7 1281.1,416.6 1289.9,407.7 1298.8,417.5 1307.7,411.0 1316.5,420.0 1325.3,402.4 1334.2,410.4 1343.0,366.6 1351.9,388.0 1360.8,427.1" stroke="#8DA0CB" stroke-opacity="0.50"/>
<polyline points="794.4,567.8 803.2,546.6 812.0,545.6 820.9,548.0 829.8,543.3 838.6,548.1 847.5,549.3 856.3,545.0 865.1,544.2 874.0,538.3 882.9,551.2 891.7,543.7 900.5,540.7 909.4,538.5 918.2,538.1 927.1,534.7 936.0,540.1 944.8,531.5 953.6,530.6 962.5,530.6 971.4,537.3 980.2,531.8 989.0,524.4 997.9,528.2 1006.8,527.4 1015.6,518.9 1024.5,515.3 1033.3,536.0 1042.2,541.0 1051.0,540.4 1059.8,520.1 1068.7,533.3 1077.5,529.6 1086.4,537.3 1095.2,517.0 1104.1,506.5 1112.9,525.4 1121.8,509.8 1130.7,515.5 1139.5,497.6 1148.3,472.4 1157.2,447.6 1166.0,477.1 1174.9,502.9 1183.8,479.8 1192.6,478.6 1201.4,448.8 1210.3,471.4 1219.2,458.6 1228.0,478.4 1236.8,446.7 1245.7,459.5 1254.5,464.2 1263.4,466.5 1272.2,469.3 1281.1,416.6 1289.9,444.7 1298.8,457.9 1307.7,448.9 1316.5,466.5 1325.3,407.8 1334.2,432.0 1343.0,406.6 1351.9,420.1 1360.8,402.4" stroke="#E78AC3" stroke-opacity="0.50"/>
<polyline points="794.4,564.4 803.2,560.9 812.0,558.6 820.9,558.6 829.8,557.5 838.6,559.0 847.5,557.7 856.3,558.1 865.1,560.5 874.0,561.4 882.9,564.6 891.7,563.9 900.5,563.0 909.4,563.2 918.2,559.0 927.1,563.1 936.0,558.7 944.8,554.5 953.6,552.0 962.5,552.2 971.4,548.4 980.2,549.7 989.0,552.0 997.9,543.7 1006.8,549.0 1015.6,545.1 1024.5,548.0 1033.3,549.6 1042.2,547.7 1051.0,550.3 1059.8,542.9 1068.7,545.2 1077.5,536.0 1086.4,539.1 1095.2,534.7 1104.1,530.5 1112.9,517.6 1121.8,518.5 1130.7,520.8 1139.5,521.6 1148.3,493.0 1157.2,506.9 1166.0,515.1 1174.9,521.4 1183.8,519.2 1192.6,487.7 1201.4,528.1 1210.3,512.4 1219.2,509.4 1228.0,528.0 1236.8,523.6 1245.7,503.3 1254.5,509.6 1263.4,499.0 1272.2,502.6 1281.1,459.7 1289.9,482.2 1298.8,444.5 1307.7,478.9 1316.5,461.5 1325.3,420.2 1334.2,414.3 1343.0,451.4 1351.9,434.0 1360.8,436.6" stroke="#E78AC3" stroke-opacity="0.50"/>
<polyline points="794.4,561.8 803.2,561.8 812.0,555.8 820.9,551.7 829.8,555.1 838.6,554.2 847.5,549.3 856.3,546.9 865.1,551.0 874.0,551.4 882.9,546.8 891.7,545.1 900.5,546.8 909.4,543.8 918.2,549.4 927.1,549.4 936.0,546.1 944.8,552.8 953.6,544.7 962.5,549.6 971.4,546.7 980.2,545.9 989.0,547.7 997.9,537.0 1006.8,548.5 1015.6,534.9 1024.5,540.0 1033.3,533.6 1042.2,537.5 1051.0,527.7 1059.8,516.0 1068.7,531.9 1077.5,512.3 1086.4,499.8 1095.2,511.5 1104.1,502.0 1112.9,520.9 1121.8,508.6 1130.7,511.6 1139.5,499.2 1148.3,475.5 1157.2,503.4 1166.0,501.8 1174.9,498.5 1183.8,490.4 1192.6,474.8 1201.4,461.2 1210.3,457.3 1219.2,466.9 1228.0,508.7 1236.8,441.1 1245.7,484.7 1254.5,483.1 1263.4,488.2 1272.2,472.1 1281.1,482.2 1289.9,484.8 1298.8,454.7 1307.7,445.7 1316.5,451.1 1325.3,409.6 1334.2,443.3 1343.0,457.4 1351.9,426.7 1360.8,408.8" stroke="#E78AC3" stroke-opacity="0.50"/>
</g>
<rect x="767.80" y="1.50" width="619.40" height="64.9" fill="#f2f2f2" stroke="#000" stroke-width="3.2"/>
<text transform="translate(1077.45,43.60) scale(1,1.040)" text-anchor="middle">Cluster 2 no. of diseases: 51</text>
<line x1="239.35" y1="1215.4" x2="239.35" y2="686.0" stroke="#a6a6a6" stroke-width="1.1" stroke-dasharray="3.6 3.66"/>
<line x1="416.35" y1="1215.4" x2="416.35" y2="686.0" stroke="#a6a6a6" stroke-width="1.1" stroke-dasharray="3.6 3.66"/>
<line x1="593.35" y1="1215.4" x2="593.35" y2="686.0" stroke="#a6a6a6" stroke-width="1.1" stroke-dasharray="3.6 3.66"/>
<line x1="150.85" y1="1215.4" x2="150.85" y2="686.0" stroke="#8a8a8a" stroke-width="2.2" stroke-dasharray="7 7.27"/>
<line x1="327.85" y1="1215.4" x2="327.85" y2="686.0" stroke="#8a8a8a" stroke-width="2.2" stroke-dasharray="7 7.27"/>
<line x1="504.85" y1="1215.4" x2="504.85" y2="686.0" stroke="#8a8a8a" stroke-width="2.2" stroke-dasharray="7 7.27"/>
<line x1="681.85" y1="1215.4" x2="681.85" y2="686.0" stroke="#8a8a8a" stroke-width="2.2" stroke-dasharray="7 7.27"/>
<line x1="112.0" y1="1191.30" x2="745.2" y2="1191.30" stroke="#111" stroke-width="1.2"/>
<g fill="none" stroke-width="4.6" stroke-linejoin="round" stroke-linecap="butt">
<polyline points="150.8,1136.3 159.7,1138.8 168.5,1139.6 177.4,1146.1 186.2,1141.4 195.1,1133.9 203.9,1148.3 212.8,1141.3 221.6,1149.6 230.5,1154.1 239.3,1129.1 248.2,1155.5 257.0,1146.1 265.9,1148.8 274.8,1147.7 283.6,1124.2 292.4,1158.5 301.3,1145.4 310.1,1152.1 319.0,1152.9 327.9,1124.7 336.7,1156.7 345.5,1153.0 354.4,1145.3 363.2,1150.3 372.1,1131.1 380.9,1143.9 389.8,1145.4 398.6,1152.2 407.5,1157.2 416.4,1144.8 425.2,1153.7 434.0,1155.6 442.9,1159.4 451.8,1147.3 460.6,1138.9 469.4,1153.4 478.3,1154.8 487.1,1151.1 496.0,1154.9 504.9,1136.0 513.7,1153.8 522.5,1146.1 531.4,1150.5 540.2,1152.0 549.1,1122.7 557.9,1155.7 566.8,1144.2 575.6,1136.2 584.5,1135.8 593.4,1116.9 602.2,1141.9 611.0,1131.0 619.9,1136.7 628.8,1134.9 637.6,1091.5 646.4,1127.6 655.3,1126.2 664.1,1124.9 673.0,1128.1 681.9,1064.1 690.7,1115.3 699.5,1088.2 708.4,1090.9 717.2,1073.7" stroke="#C7E9C0" stroke-opacity="0.50"/>
<polyline points="150.8,1179.3 159.7,1179.2 168.5,1178.2 177.4,1177.1 186.2,1174.1 195.1,1163.6 203.9,1168.2 212.8,1169.2 221.6,1163.5 230.5,1161.4 239.3,1161.1 248.2,1164.4 257.0,1167.1 265.9,1168.4 274.8,1165.9 283.6,1159.3 292.4,1171.6 301.3,1168.8 310.1,1172.0 319.0,1168.4 327.9,1157.2 336.7,1167.9 345.5,1165.5 354.4,1167.7 363.2,1165.2 372.1,1147.5 380.9,1167.6 389.8,1165.5 398.6,1169.1 407.5,1172.0 416.4,1160.9 425.2,1168.9 434.0,1172.4 442.9,1122.8 451.8,1104.1 460.6,1091.6 469.4,1079.2 478.3,1079.2 487.1,1088.5 496.0,1097.9 504.9,1082.3 513.7,1072.9 522.5,1091.6 531.4,1097.9 540.2,1082.3 549.1,1091.6 557.9,1097.9 566.8,1079.2 575.6,1069.8 584.5,1097.9 593.4,1091.6 602.2,1097.9 611.0,1100.9 619.9,1097.1 628.8,1115.5 637.6,1106.8 646.4,1122.1 655.3,1111.8 664.1,1112.1 673.0,1106.6 681.9,1109.8 690.7,1108.8 699.5,1097.1 708.4,1121.8 717.2,1100.6" stroke="#C7E9C0" stroke-opacity="0.50"/>
<polyline points="150.8,1161.6 159.7,1151.4 168.5,1158.1 177.4,1156.2 186.2,1152.7 195.1,1140.4 203.9,1153.4 212.8,1145.2 221.6,1153.7 230.5,1153.4 239.3,1141.2 248.2,1153.3 257.0,1153.6 265.9,1152.4 274.8,1156.3 283.6,1142.3 292.4,1164.3 301.3,1159.4 310.1,1154.7 319.0,1162.6 327.9,1151.0 336.7,1162.1 345.5,1160.4 354.4,1158.9 363.2,1154.8 372.1,1141.4 380.9,1157.7 389.8,1154.2 398.6,1150.6 407.5,1155.6 416.4,1129.7 425.2,1157.2 434.0,1154.3 442.9,1162.4 451.8,1161.2 460.6,1141.5 469.4,1163.9 478.3,1163.6 487.1,1155.5 496.0,1164.2 504.9,1151.4 513.7,1162.0 522.5,1159.4 531.4,1164.1 540.2,1163.0 549.1,1156.1 557.9,1160.5 566.8,1161.3 575.6,1154.5 584.5,1150.7 593.4,1127.0 602.2,1154.8 611.0,1145.8 619.9,1142.0 628.8,1133.2 637.6,1088.9 646.4,1130.7 655.3,1109.6 664.1,1125.4 673.0,1125.3 681.9,1072.7 690.7,1130.8 699.5,1113.7 708.4,1114.0 717.2,1125.6" stroke="#E78AC3" stroke-opacity="0.50"/>
<polyline points="150.8,1187.7 159.7,1187.7 168.5,1184.9 177.4,1183.2 186.2,1182.8 195.1,1176.7 203.9,1181.0 212.8,1182.2 221.6,1179.3 230.5,1181.7 239.3,1035.6 248.2,1178.5 257.0,1178.7 265.9,1179.6 274.8,1177.7 283.6,1175.2 292.4,1179.8 301.3,1179.7 310.1,1180.5 319.0,1182.3 327.9,1119.2 336.7,1183.2 345.5,1180.7 354.4,1182.1 363.2,1182.0 372.1,1176.2 380.9,1182.8 389.8,1179.3 398.6,1176.7 407.5,1173.1 416.4,1114.0 425.2,1176.3 434.0,1173.1 442.9,1177.5 451.8,1176.7 460.6,1121.3 469.4,1176.5 478.3,1177.1 487.1,1178.0 496.0,1177.3 504.9,1073.7 513.7,1176.2 522.5,1178.5 531.4,1174.0 540.2,1178.3 549.1,1110.0 557.9,1176.0 566.8,1177.2 575.6,1178.5 584.5,1176.9 593.4,1063.2 602.2,1171.9 611.0,1171.4 619.9,1176.2 628.8,1166.7 637.6,1119.2 646.4,1167.1 655.3,1170.5 664.1,1166.7 673.0,1166.6 681.9,1086.2 690.7,1161.6 699.5,1154.1 708.4,1152.5 717.2,1148.6" stroke="#FBB4AE" stroke-opacity="0.50"/>
<polyline points="150.8,1187.1 159.7,1185.8 168.5,1185.4 177.4,1182.8 186.2,1183.7 195.1,1180.9 203.9,1182.2 212.8,1180.2 221.6,1182.9 230.5,1181.7 239.3,1049.3 248.2,1180.1 257.0,1177.7 265.9,1179.4 274.8,1178.1 283.6,1174.4 292.4,1178.9 301.3,1178.5 310.1,1178.5 319.0,1177.9 327.9,1116.2 336.7,1179.1 345.5,1178.5 354.4,1181.5 363.2,1180.3 372.1,1176.2 380.9,1183.5 389.8,1182.2 398.6,1181.4 407.5,1181.1 416.4,1112.2 425.2,1181.4 434.0,1180.9 442.9,1177.4 451.8,1177.2 460.6,1110.8 469.4,1178.8 478.3,1176.9 487.1,1175.6 496.0,1176.6 504.9,1080.2 513.7,1179.6 522.5,1179.1 531.4,1180.3 540.2,1178.9 549.1,1113.1 557.9,1180.6 566.8,1177.6 575.6,1176.9 584.5,1174.2 593.4,1070.7 602.2,1174.8 611.0,1172.0 619.9,1173.2 628.8,1174.0 637.6,1122.9 646.4,1169.2 655.3,1170.2 664.1,1170.2 673.0,1167.1 681.9,1101.4 690.7,1164.5 699.5,1158.8 708.4,1158.0 717.2,1156.6" stroke="#FBB4AE" stroke-opacity="0.50"/>
<polyline points="150.8,1185.0 159.7,1182.8 168.5,1182.3 177.4,1181.9 186.2,1181.2 195.1,1177.0 203.9,1180.9 212.8,1180.3 221.6,1181.7 230.5,1179.3 239.3,1035.6 248.2,1082.3 257.0,1180.2 265.9,1180.5 274.8,1179.9 283.6,1174.2 292.4,1181.8 301.3,1181.1 310.1,1181.7 319.0,1178.8 327.9,1174.7 336.7,1178.8 345.5,1177.7 354.4,1174.0 363.2,1176.1 372.1,1170.7 380.9,1178.9 389.8,1174.5 398.6,1175.3 407.5,1175.6 416.4,1170.4 425.2,1177.5 434.0,1177.4 442.9,1174.9 451.8,1177.3 460.6,1175.3 469.4,1179.5 478.3,1179.1 487.1,1181.9 496.0,1179.7 504.9,1175.0 513.7,1180.1 522.5,1180.0 531.4,1179.4 540.2,1178.3 549.1,1175.9 557.9,1181.9 566.8,1180.5 575.6,1175.1 584.5,1174.9 593.4,1166.4 602.2,1173.9 611.0,1171.0 619.9,1169.1 628.8,1163.8 637.6,1133.2 646.4,1158.1 655.3,1155.1 664.1,1154.2 673.0,1155.9 681.9,1111.4 690.7,1146.1 699.5,1128.1 708.4,1127.8 717.2,1126.7" stroke="#E78AC3" stroke-opacity="0.50"/>
<polyline points="150.8,1186.0 159.7,1185.6 168.5,1184.3 177.4,1182.9 186.2,1180.6 195.1,1176.0 203.9,1181.2 212.8,1177.3 221.6,1176.7 230.5,1175.4 239.3,1051.1 248.2,1176.4 257.0,1170.3 265.9,1173.5 274.8,1173.0 283.6,1158.8 292.4,1173.4 301.3,1171.2 310.1,1174.5 319.0,1173.9 327.9,1166.0 336.7,1173.2 345.5,1173.2 354.4,1174.0 363.2,1172.5 372.1,1161.8 380.9,1171.7 389.8,1170.8 398.6,1166.9 407.5,1172.2 416.4,1162.0 425.2,1174.5 434.0,1173.7 442.9,1176.6 451.8,1179.1 460.6,1175.6 469.4,1175.7 478.3,1177.9 487.1,1176.4 496.0,1175.6 504.9,1166.5 513.7,1176.4 522.5,1175.9 531.4,1173.8 540.2,1169.8 549.1,1159.9 557.9,1170.3 566.8,1167.2 575.6,1165.0 584.5,1162.8 593.4,1154.2 602.2,1166.6 611.0,1161.9 619.9,1161.2 628.8,1161.9 637.6,1135.3 646.4,1147.8 655.3,1142.6 664.1,1145.6 673.0,1142.5 681.9,1136.8 690.7,1153.5 699.5,1147.1 708.4,1158.6 717.2,1146.2" stroke="#E78AC3" stroke-opacity="0.50"/>
<polyline points="150.8,1179.3 159.7,1177.6 168.5,1175.1 177.4,1172.3 186.2,1174.7 195.1,1164.7 203.9,1174.8 212.8,1173.7 221.6,1173.8 230.5,1177.3 239.3,1076.7 248.2,1178.3 257.0,1176.6 265.9,1175.3 274.8,1174.8 283.6,1168.1 292.4,1175.3 301.3,1174.0 310.1,1171.9 319.0,1171.9 327.9,1113.0 336.7,1178.2 345.5,1178.1 354.4,1179.3 363.2,1181.5 372.1,1177.5 380.9,1180.6 389.8,1180.6 398.6,1179.2 407.5,1180.1 416.4,1113.8 425.2,1176.4 434.0,1175.9 442.9,1176.7 451.8,1174.6 460.6,1107.4 469.4,1175.3 478.3,1173.9 487.1,1174.5 496.0,1176.1 504.9,1093.1 513.7,1179.6 522.5,1179.1 531.4,1175.6 540.2,1176.1 549.1,1100.0 557.9,1176.2 566.8,1172.9 575.6,1164.1 584.5,1160.7 593.4,1066.3 602.2,1162.0 611.0,1160.3 619.9,1162.0 628.8,1159.3 637.6,1117.6 646.4,1168.3 655.3,1161.3 664.1,1156.4 673.0,1153.1 681.9,1082.5 690.7,1147.2 699.5,1144.8 708.4,1141.1 717.2,1135.5" stroke="#FBB4AE" stroke-opacity="0.50"/>
<polyline points="150.8,1167.2 159.7,1168.0 168.5,1168.3 177.4,1169.8 186.2,1169.0 195.1,1152.7 203.9,1165.3 212.8,1165.5 221.6,1163.3 230.5,1161.7 239.3,1143.8 248.2,1160.0 257.0,1153.2 265.9,1154.9 274.8,1157.4 283.6,1145.0 292.4,1161.3 301.3,1149.7 310.1,1147.0 319.0,1156.9 327.9,1133.2 336.7,1156.7 345.5,1154.6 354.4,1149.3 363.2,1152.3 372.1,1135.0 380.9,1160.2 389.8,1161.4 398.6,1157.0 407.5,1163.7 416.4,1151.0 425.2,1160.0 434.0,1163.1 442.9,1162.3 451.8,1161.7 460.6,1144.5 469.4,1164.5 478.3,1154.6 487.1,1160.8 496.0,1161.8 504.9,1133.4 513.7,1166.2 522.5,1156.7 531.4,1155.2 540.2,1155.1 549.1,1138.5 557.9,1151.1 566.8,1154.8 575.6,1151.0 584.5,1152.3 593.4,1131.9 602.2,1159.6 611.0,1153.7 619.9,1153.8 628.8,1155.2 637.6,1131.4 646.4,1145.2 655.3,1149.7 664.1,1134.8 673.0,1135.9 681.9,1101.7 690.7,1150.9 699.5,1134.0 708.4,1125.6 717.2,1133.8" stroke="#C7E9C0" stroke-opacity="0.50"/>
<polyline points="150.8,1176.4 159.7,1174.1 168.5,1170.6 177.4,1172.4 186.2,1165.3 195.1,1159.4 203.9,1167.5 212.8,1162.4 221.6,1162.8 230.5,1164.4 239.3,1148.9 248.2,1162.5 257.0,1163.3 265.9,1164.5 274.8,1160.9 283.6,1148.3 292.4,1161.1 301.3,1160.0 310.1,1161.4 319.0,1168.6 327.9,1152.8 336.7,1168.9 345.5,1168.8 354.4,1170.0 363.2,1170.8 372.1,1156.5 380.9,1172.5 389.8,1160.1 398.6,1170.2 407.5,1165.7 416.4,1159.8 425.2,1165.0 434.0,1162.7 442.9,1161.1 451.8,1159.8 460.6,1155.3 469.4,1162.9 478.3,1158.7 487.1,1158.8 496.0,1157.5 504.9,1157.5 513.7,1163.6 522.5,1162.8 531.4,1166.9 540.2,1160.7 549.1,1143.7 557.9,1159.9 566.8,1160.1 575.6,1156.2 584.5,1152.4 593.4,1145.8 602.2,1152.0 611.0,1155.3 619.9,1148.0 628.8,1146.4 637.6,1115.1 646.4,1129.0 655.3,1113.4 664.1,1097.9 673.0,1085.4 681.9,1082.3 690.7,1082.3 699.5,1097.9 708.4,1104.1 717.2,1088.5" stroke="#E78AC3" stroke-opacity="0.50"/>
<polyline points="150.8,1160.9 159.7,1159.3 168.5,1159.0 177.4,1156.3 186.2,1154.1 195.1,1149.5 203.9,1168.3 212.8,1158.1 221.6,1163.8 230.5,1157.6 239.3,1150.8 248.2,1163.7 257.0,1167.7 265.9,1166.3 274.8,1167.0 283.6,1155.8 292.4,1167.9 301.3,1167.2 310.1,1165.2 319.0,1155.5 327.9,1148.8 336.7,1164.7 345.5,1165.6 354.4,1153.9 363.2,1156.1 372.1,1151.6 380.9,1166.7 389.8,1166.9 398.6,1165.3 407.5,1167.9 416.4,1155.5 425.2,1166.0 434.0,1163.4 442.9,1166.8 451.8,1157.1 460.6,1145.1 469.4,1168.4 478.3,1167.1 487.1,1163.2 496.0,1166.3 504.9,1156.9 513.7,1172.6 522.5,1164.7 531.4,1162.7 540.2,1162.6 549.1,1155.8 557.9,1164.6 566.8,1158.5 575.6,1154.0 584.5,1154.2 593.4,1139.9 602.2,1167.6 611.0,1152.7 619.9,1160.9 628.8,1149.5 637.6,1131.4 646.4,1140.1 655.3,1140.6 664.1,1143.7 673.0,1145.2 681.9,1126.3 690.7,1152.0 699.5,1132.8 708.4,1136.6 717.2,1144.1" stroke="#C7E9C0" stroke-opacity="0.50"/>
<polyline points="150.8,1168.7 159.7,1168.6 168.5,1159.0 177.4,1156.9 186.2,1154.4 195.1,1133.3 203.9,1154.6 212.8,1154.9 221.6,1152.9 230.5,1156.9 239.3,1151.6 248.2,1165.5 257.0,1168.2 265.9,1162.4 274.8,1159.4 283.6,1146.6 292.4,1168.6 301.3,1167.2 310.1,1166.6 319.0,1167.9 327.9,1162.8 336.7,1173.0 345.5,1166.1 354.4,1165.8 363.2,1167.4 372.1,1165.2 380.9,1166.3 389.8,1162.9 398.6,1171.6 407.5,1163.7 416.4,1156.4 425.2,1170.7 434.0,1168.9 442.9,1169.7 451.8,1165.5 460.6,1154.6 469.4,1167.4 478.3,1170.6 487.1,1167.4 496.0,1167.1 504.9,1158.3 513.7,1169.4 522.5,1162.6 531.4,1165.3 540.2,1162.8 549.1,1155.7 557.9,1166.3 566.8,1153.2 575.6,1150.9 584.5,1150.4 593.4,1151.3 602.2,1157.8 611.0,1139.4 619.9,1134.6 628.8,1144.0 637.6,1113.7 646.4,1148.6 655.3,1133.0 664.1,1141.0 673.0,1125.2 681.9,1072.0 690.7,1133.7 699.5,1123.4 708.4,1090.6 717.2,1100.4" stroke="#FBB4AE" stroke-opacity="0.50"/>
<polyline points="150.8,1178.7 159.7,1174.1 168.5,1172.4 177.4,1174.4 186.2,1171.8 195.1,1166.3 203.9,1175.1 212.8,1172.1 221.6,1171.0 230.5,1172.2 239.3,1153.0 248.2,1172.2 257.0,1166.7 265.9,1165.8 274.8,1162.9 283.6,1151.3 292.4,1165.8 301.3,1168.3 310.1,1166.8 319.0,1168.0 327.9,1165.6 336.7,1169.9 345.5,1168.9 354.4,1170.8 363.2,1169.2 372.1,1164.5 380.9,1174.8 389.8,1171.6 398.6,1175.9 407.5,1176.4 416.4,1173.2 425.2,1178.6 434.0,1179.9 442.9,1181.0 451.8,1181.9 460.6,1178.1 469.4,1182.0 478.3,1179.2 487.1,1180.1 496.0,1178.6 504.9,1172.3 513.7,1179.5 522.5,1177.0 531.4,1173.0 540.2,1170.6 549.1,1162.1 557.9,1171.0 566.8,1168.8 575.6,1166.0 584.5,1156.8 593.4,1147.9 602.2,1163.1 611.0,1165.7 619.9,1161.2 628.8,1164.5 637.6,1138.8 646.4,1156.7 655.3,1147.4 664.1,1142.6 673.0,1136.5 681.9,1116.3 690.7,1135.4 699.5,1132.5 708.4,1139.0 717.2,1145.5" stroke="#FBB4AE" stroke-opacity="0.50"/>
<polyline points="150.8,1164.0 159.7,1160.4 168.5,1158.8 177.4,1157.2 186.2,1154.6 195.1,1129.1 203.9,1162.3 212.8,1158.5 221.6,1153.0 230.5,1154.1 239.3,1127.8 248.2,1160.2 257.0,1156.5 265.9,1147.7 274.8,1152.5 283.6,1148.5 292.4,1159.8 301.3,1161.4 310.1,1154.2 319.0,1156.0 327.9,1143.6 336.7,1163.0 345.5,1154.6 354.4,1156.6 363.2,1159.3 372.1,1133.2 380.9,1157.5 389.8,1153.7 398.6,1158.2 407.5,1153.2 416.4,1144.8 425.2,1156.5 434.0,1152.5 442.9,1163.5 451.8,1156.0 460.6,1132.3 469.4,1159.7 478.3,1154.9 487.1,1152.5 496.0,1159.1 504.9,1146.4 513.7,1159.9 522.5,1160.6 531.4,1156.3 540.2,1169.9 549.1,1148.3 557.9,1166.4 566.8,1156.8 575.6,1158.3 584.5,1149.7 593.4,1113.7 602.2,1145.9 611.0,1139.1 619.9,1141.8 628.8,1142.6 637.6,1088.9 646.4,1127.8 655.3,1114.0 664.1,1111.5 673.0,1110.4 681.9,1061.8 690.7,1115.3 699.5,1096.2 708.4,1104.9 717.2,1088.3" stroke="#E78AC3" stroke-opacity="0.50"/>
<polyline points="150.8,1191.3 159.7,1191.3 168.5,1191.3 177.4,1191.3 186.2,1191.3 195.1,1191.3 203.9,1191.3 212.8,1191.3 221.6,1191.3 230.5,1191.3 239.3,1191.3 248.2,1191.3 257.0,1191.3 265.9,1191.3 274.8,1191.3 283.6,1191.3 292.4,1191.3 301.3,1191.3 310.1,1191.3 319.0,1191.3 327.9,1174.4 336.7,1175.3 345.5,1176.2 354.4,1175.4 363.2,1175.1 372.1,1176.3 380.9,1174.9 389.8,1175.9 398.6,1175.9 407.5,1176.4 416.4,1177.3 425.2,1175.9 434.0,1176.5 442.9,1176.5 451.8,1176.1 460.6,1175.1 469.4,1178.1 478.3,1176.2 487.1,1176.6 496.0,1175.6 504.9,1173.0 513.7,1177.8 522.5,1173.1 531.4,1179.7 540.2,1175.9 549.1,1166.6 557.9,1174.7 566.8,1176.1 575.6,1172.8 584.5,1174.9 593.4,1165.9 602.2,1171.5 611.0,1163.5 619.9,1163.7 628.8,1159.5 637.6,1151.9 646.4,1155.8 655.3,1158.6 664.1,1158.7 673.0,1139.6 681.9,1121.6 690.7,1136.2 699.5,1143.8 708.4,1142.6 717.2,1141.1" stroke="#C7E9C0" stroke-opacity="0.50"/>
<polyline points="150.8,1163.0 159.7,1159.8 168.5,1160.4 177.4,1158.2 186.2,1159.5 195.1,1142.0 203.9,1156.9 212.8,1159.6 221.6,1154.7 230.5,1154.0 239.3,1137.7 248.2,1157.2 257.0,1159.1 265.9,1166.3 274.8,1158.5 283.6,1159.1 292.4,1165.6 301.3,1158.0 310.1,1161.4 319.0,1163.9 327.9,1155.8 336.7,1162.0 345.5,1160.7 354.4,1160.7 363.2,1163.0 372.1,1145.2 380.9,1164.5 389.8,1165.2 398.6,1162.6 407.5,1161.9 416.4,1144.7 425.2,1164.0 434.0,1157.6 442.9,1156.2 451.8,1153.4 460.6,1138.0 469.4,1160.3 478.3,1143.0 487.1,1146.9 496.0,1142.4 504.9,1117.0 513.7,1151.2 522.5,1146.2 531.4,1156.5 540.2,1153.2 549.1,1143.0 557.9,1159.6 566.8,1146.4 575.6,1141.5 584.5,1138.3 593.4,1123.0 602.2,1126.8 611.0,1133.4 619.9,1126.5 628.8,1119.6 637.6,1114.6 646.4,1142.4 655.3,1136.8 664.1,1136.0 673.0,1140.4 681.9,1095.8 690.7,1119.6 699.5,1122.7 708.4,1101.0 717.2,1105.1" stroke="#C7E9C0" stroke-opacity="0.50"/>
<polyline points="150.8,1169.7 159.7,1163.6 168.5,1166.7 177.4,1166.3 186.2,1165.8 195.1,1142.1 203.9,1164.2 212.8,1159.3 221.6,1162.3 230.5,1163.3 239.3,1142.5 248.2,1164.4 257.0,1161.2 265.9,1153.1 274.8,1160.1 283.6,1139.7 292.4,1153.5 301.3,1149.6 310.1,1151.4 319.0,1154.7 327.9,1131.6 336.7,1162.1 345.5,1158.8 354.4,1158.7 363.2,1159.9 372.1,1147.7 380.9,1162.4 389.8,1160.2 398.6,1162.8 407.5,1163.1 416.4,1155.4 425.2,1163.2 434.0,1161.4 442.9,1159.6 451.8,1160.8 460.6,1155.7 469.4,1151.7 478.3,1156.4 487.1,1155.5 496.0,1164.9 504.9,1141.0 513.7,1162.9 522.5,1157.4 531.4,1158.8 540.2,1152.6 549.1,1139.6 557.9,1153.8 566.8,1150.9 575.6,1149.0 584.5,1159.9 593.4,1129.0 602.2,1157.7 611.0,1157.9 619.9,1142.7 628.8,1140.2 637.6,1110.2 646.4,1137.4 655.3,1136.2 664.1,1121.6 673.0,1118.6 681.9,1113.4 690.7,1097.9 699.5,1063.6 708.4,1097.9 717.2,1082.3" stroke="#A6D854" stroke-opacity="0.50"/>
<polyline points="150.8,979.5 159.7,1044.9 168.5,1097.9 177.4,1129.0 186.2,1141.5 195.1,1091.6 203.9,1154.6 212.8,1139.0 221.6,1150.8 230.5,1151.6 239.3,1117.9 248.2,1155.6 257.0,1148.2 265.9,1145.2 274.8,1161.5 283.6,1132.8 292.4,1153.8 301.3,1160.0 310.1,1156.8 319.0,1157.8 327.9,1142.2 336.7,1153.1 345.5,1152.0 354.4,1156.6 363.2,1152.3 372.1,1126.1 380.9,1160.9 389.8,1155.6 398.6,1155.2 407.5,1138.2 416.4,1122.3 425.2,1148.5 434.0,1146.1 442.9,1157.3 451.8,1147.0 460.6,1137.5 469.4,1155.9 478.3,1156.3 487.1,1156.7 496.0,1150.8 504.9,1126.2 513.7,1150.2 522.5,1146.4 531.4,1136.7 540.2,1133.3 549.1,1122.2 557.9,1139.1 566.8,1139.1 575.6,1142.2 584.5,1136.4 593.4,1116.9 602.2,1134.5 611.0,1140.4 619.9,1146.8 628.8,1133.5 637.6,1099.9 646.4,1139.4 655.3,1124.0 664.1,1130.2 673.0,1127.1 681.9,1061.9 690.7,1104.1 699.5,1097.9 708.4,1082.3 717.2,1069.8" stroke="#FC8D62" stroke-opacity="0.50"/>
<polyline points="150.8,1082.3 159.7,1113.4 168.5,1135.2 177.4,1150.8 186.2,1153.9 195.1,1106.9 203.9,1138.4 212.8,1132.0 221.6,1131.6 230.5,1143.2 239.3,1106.3 248.2,1125.4 257.0,1138.2 265.9,1138.8 274.8,1143.2 283.6,1130.0 292.4,1142.4 301.3,1141.2 310.1,1131.4 319.0,1144.9 327.9,1126.2 336.7,1143.6 345.5,1149.7 354.4,1145.0 363.2,1143.0 372.1,1125.7 380.9,1146.1 389.8,1145.7 398.6,1144.0 407.5,1152.2 416.4,1132.9 425.2,1153.0 434.0,1152.7 442.9,1145.2 451.8,1134.0 460.6,1104.4 469.4,1145.0 478.3,1143.3 487.1,1148.1 496.0,1144.5 504.9,1132.1 513.7,1145.4 522.5,1146.4 531.4,1144.6 540.2,1142.7 549.1,1116.2 557.9,1140.6 566.8,1141.4 575.6,1127.6 584.5,1138.6 593.4,1105.0 602.2,1141.0 611.0,1123.7 619.9,1111.3 628.8,1128.1 637.6,1096.4 646.4,1129.3 655.3,1124.4 664.1,1105.6 673.0,1106.5 681.9,1090.8 690.7,1104.9 699.5,1113.5 708.4,1090.9 717.2,1098.4" stroke="#FC8D62" stroke-opacity="0.50"/>
<polyline points="150.8,1176.3 159.7,1183.4 168.5,1182.1 177.4,1174.3 186.2,1176.7 195.1,1175.4 203.9,1181.0 212.8,1184.6 221.6,1172.6 230.5,1181.8 239.3,1182.2 248.2,1176.5 257.0,1166.8 265.9,1157.8 274.8,1160.6 283.6,1138.5 292.4,1152.4 301.3,1159.0 310.1,1159.5 319.0,1164.7 327.9,1157.0 336.7,1166.0 345.5,1163.1 354.4,1168.5 363.2,1163.4 372.1,1140.6 380.9,1163.0 389.8,1166.8 398.6,1167.6 407.5,1170.2 416.4,1152.2 425.2,1172.7 434.0,1168.4 442.9,1161.5 451.8,1168.2 460.6,1163.4 469.4,1172.8 478.3,1170.7 487.1,1173.8 496.0,1173.0 504.9,1159.9 513.7,1172.9 522.5,1165.9 531.4,1166.2 540.2,1162.6 549.1,1145.1 557.9,1163.1 566.8,1159.9 575.6,1155.3 584.5,1165.7 593.4,1160.2 602.2,1163.3 611.0,1166.4 619.9,1169.5 628.8,1166.4 637.6,1160.2 646.4,1163.3 655.3,1166.4 664.1,1166.4 673.0,1163.3 681.9,1160.2 690.7,1163.3 699.5,1157.0 708.4,1153.9 717.2,1153.9" stroke="#A6D854" stroke-opacity="0.50"/>
<polyline points="150.8,1153.9 159.7,1160.2 168.5,1163.3 177.4,1160.2 186.2,1157.0 195.1,1112.2 203.9,1139.7 212.8,1139.5 221.6,1124.2 230.5,1140.0 239.3,1120.6 248.2,1145.7 257.0,1131.6 265.9,1126.2 274.8,1137.1 283.6,1103.9 292.4,1129.4 301.3,1140.0 310.1,1135.7 319.0,1133.0 327.9,1124.5 336.7,1141.0 345.5,1141.9 354.4,1140.2 363.2,1150.2 372.1,1121.9 380.9,1131.4 389.8,1142.8 398.6,1139.4 407.5,1143.0 416.4,1101.3 425.2,1150.5 434.0,1138.7 442.9,1141.0 451.8,1144.0 460.6,1116.5 469.4,1140.5 478.3,1133.2 487.1,1147.9 496.0,1126.2 504.9,1120.2 513.7,1143.7 522.5,1144.1 531.4,1145.5 540.2,1138.3 549.1,1107.5 557.9,1142.9 566.8,1137.4 575.6,1124.2 584.5,1129.5 593.4,1118.5 602.2,1123.5 611.0,1118.0 619.9,1134.6 628.8,1110.9 637.6,1092.5 646.4,1103.7 655.3,1114.6 664.1,1096.2 673.0,1112.8 681.9,1038.1 690.7,1094.9 699.5,1113.7 708.4,1078.4 717.2,1081.3" stroke="#FC8D62" stroke-opacity="0.50"/>
<polyline points="150.8,1175.3 159.7,1176.0 168.5,1172.8 177.4,1169.3 186.2,1172.9 195.1,1162.3 203.9,1174.4 212.8,1172.8 221.6,1172.5 230.5,1129.0 239.3,1113.4 248.2,1097.9 257.0,1079.2 265.9,1066.7 274.8,1066.7 283.6,1072.9 292.4,1082.3 301.3,1097.9 310.1,1129.0 319.0,1135.2 327.9,1174.3 336.7,1176.3 345.5,1175.8 354.4,1171.2 363.2,1169.0 372.1,1162.9 380.9,1173.4 389.8,1166.5 398.6,1168.3 407.5,1166.5 416.4,1151.1 425.2,1165.2 434.0,1163.4 442.9,1164.8 451.8,1169.7 460.6,1153.8 469.4,1171.7 478.3,1167.9 487.1,1168.5 496.0,1169.9 504.9,1156.0 513.7,1172.4 522.5,1171.1 531.4,1167.6 540.2,1167.7 549.1,1159.6 557.9,1166.8 566.8,1163.4 575.6,1157.9 584.5,1161.2 593.4,1126.6 602.2,1155.9 611.0,1154.2 619.9,1160.7 628.8,1156.2 637.6,1139.4 646.4,1160.8 655.3,1149.2 664.1,1141.9 673.0,1145.2 681.9,1126.2 690.7,1149.8 699.5,1148.9 708.4,1123.5 717.2,1139.9" stroke="#A6D854" stroke-opacity="0.50"/>
<polyline points="150.8,1179.1 159.7,1180.7 168.5,1180.4 177.4,1182.0 186.2,1179.3 195.1,1173.3 203.9,1176.9 212.8,1177.0 221.6,1176.7 230.5,1144.6 239.3,1129.0 248.2,1113.4 257.0,1097.9 265.9,1085.4 274.8,1082.3 283.6,1088.5 292.4,1097.9 301.3,1122.8 310.1,1135.2 319.0,1173.5 327.9,1159.9 336.7,1170.6 345.5,1175.3 354.4,1170.4 363.2,1167.1 372.1,1165.6 380.9,1167.9 389.8,1167.9 398.6,1171.3 407.5,1170.3 416.4,1153.1 425.2,1167.0 434.0,1159.4 442.9,1164.6 451.8,1165.3 460.6,1152.4 469.4,1169.9 478.3,1169.1 487.1,1165.9 496.0,1171.9 504.9,1157.3 513.7,1174.9 522.5,1170.0 531.4,1172.1 540.2,1167.7 549.1,1163.6 557.9,1169.2 566.8,1165.2 575.6,1163.6 584.5,1164.2 593.4,1152.6 602.2,1171.8 611.0,1161.4 619.9,1160.2 628.8,1162.1 637.6,1147.3 646.4,1160.1 655.3,1153.8 664.1,1149.9 673.0,1156.8 681.9,1136.2 690.7,1159.3 699.5,1151.3 708.4,1151.3 717.2,1152.5" stroke="#A6D854" stroke-opacity="0.50"/>
<polyline points="150.8,1147.3 159.7,1145.4 168.5,1137.7 177.4,1137.2 186.2,1133.4 195.1,1116.6 203.9,1146.6 212.8,1120.1 221.6,1130.4 230.5,1121.7 239.3,1093.7 248.2,1133.0 257.0,1133.5 265.9,1128.7 274.8,1116.6 283.6,1111.2 292.4,1142.9 301.3,1139.6 310.1,1149.4 319.0,1147.4 327.9,1131.5 336.7,1149.6 345.5,1143.2 354.4,1140.8 363.2,1146.0 372.1,1124.4 380.9,1148.5 389.8,1148.7 398.6,1152.9 407.5,1141.7 416.4,1130.6 425.2,1148.6 434.0,1139.7 442.9,1143.9 451.8,1140.9 460.6,1124.9 469.4,1145.6 478.3,1147.5 487.1,1154.7 496.0,1151.3 504.9,1121.9 513.7,1147.3 522.5,1138.2 531.4,1130.5 540.2,1134.9 549.1,1112.0 557.9,1136.0 566.8,1139.9 575.6,1123.2 584.5,1130.4 593.4,1121.8 602.2,1130.6 611.0,1125.3 619.9,1114.4 628.8,1121.4 637.6,1100.0 646.4,1114.7 655.3,1097.6 664.1,1119.1 673.0,1112.0 681.9,1084.5 690.7,1104.0 699.5,1113.3 708.4,1098.9 717.2,1088.4" stroke="#8DA0CB" stroke-opacity="0.50"/>
<polyline points="150.8,1141.5 159.7,1135.2 168.5,1137.3 177.4,1127.7 186.2,1128.9 195.1,1083.2 203.9,1150.4 212.8,1130.6 221.6,1132.9 230.5,1130.8 239.3,1085.9 248.2,1142.8 257.0,1138.0 265.9,1141.1 274.8,1143.0 283.6,1115.2 292.4,1140.3 301.3,1145.6 310.1,1150.6 319.0,1138.9 327.9,1124.8 336.7,1136.3 345.5,1141.2 354.4,1140.0 363.2,1143.1 372.1,1117.1 380.9,1141.4 389.8,1147.1 398.6,1147.5 407.5,1145.1 416.4,1113.4 425.2,1151.1 434.0,1148.4 442.9,1151.9 451.8,1149.7 460.6,1108.5 469.4,1153.6 478.3,1141.1 487.1,1144.6 496.0,1150.0 504.9,1126.8 513.7,1145.7 522.5,1147.0 531.4,1140.7 540.2,1147.0 549.1,1113.2 557.9,1133.6 566.8,1121.6 575.6,1139.0 584.5,1127.2 593.4,1071.2 602.2,1130.7 611.0,1116.7 619.9,1116.2 628.8,1115.8 637.6,1053.6 646.4,1123.2 655.3,1097.7 664.1,1107.6 673.0,1090.9 681.9,1076.9 690.7,1119.7 699.5,1072.7 708.4,1084.8 717.2,1074.8" stroke="#A6D854" stroke-opacity="0.50"/>
<polyline points="150.8,1057.4 159.7,1097.9 168.5,1129.0 177.4,1141.5 186.2,1147.7 195.1,1118.9 203.9,1150.1 212.8,1145.4 221.6,1143.1 230.5,1135.4 239.3,1129.9 248.2,1141.9 257.0,1133.2 265.9,1142.1 274.8,1144.8 283.6,1116.6 292.4,1133.9 301.3,1136.2 310.1,1143.3 319.0,1147.1 327.9,1129.6 336.7,1143.3 345.5,1147.7 354.4,1151.2 363.2,1149.2 372.1,1124.3 380.9,1149.7 389.8,1148.6 398.6,1148.4 407.5,1149.1 416.4,1131.4 425.2,1146.1 434.0,1144.9 442.9,1148.0 451.8,1147.8 460.6,1132.9 469.4,1160.1 478.3,1150.4 487.1,1150.7 496.0,1158.9 504.9,1131.5 513.7,1149.6 522.5,1144.3 531.4,1149.4 540.2,1140.7 549.1,1134.3 557.9,1138.5 566.8,1139.4 575.6,1137.0 584.5,1138.2 593.4,1088.2 602.2,1122.1 611.0,1126.1 619.9,1122.7 628.8,1128.8 637.6,1082.7 646.4,1118.1 655.3,1105.2 664.1,1115.4 673.0,1114.9 681.9,1070.9 690.7,1097.9 699.5,1088.5 708.4,1082.3 717.2,1076.1" stroke="#FC8D62" stroke-opacity="0.50"/>
<polyline points="150.8,1154.4 159.7,1158.9 168.5,1160.4 177.4,1161.5 186.2,1156.9 195.1,1139.5 203.9,1151.8 212.8,1159.3 221.6,1155.2 230.5,1153.4 239.3,1124.8 248.2,1154.0 257.0,1145.9 265.9,1150.8 274.8,1152.8 283.6,1126.9 292.4,1150.9 301.3,1140.6 310.1,1151.4 319.0,1152.4 327.9,1126.4 336.7,1146.7 345.5,1158.4 354.4,1150.5 363.2,1154.6 372.1,1138.4 380.9,1158.1 389.8,1152.7 398.6,1153.9 407.5,1157.0 416.4,1143.2 425.2,1156.4 434.0,1155.9 442.9,1151.2 451.8,1152.7 460.6,1127.5 469.4,1158.2 478.3,1147.8 487.1,1149.6 496.0,1150.4 504.9,1122.2 513.7,1148.8 522.5,1126.6 531.4,1131.8 540.2,1141.1 549.1,1101.9 557.9,1136.5 566.8,1135.4 575.6,1132.9 584.5,1139.3 593.4,1092.5 602.2,1139.1 611.0,1135.3 619.9,1139.6 628.8,1125.9 637.6,1110.7 646.4,1138.8 655.3,1134.7 664.1,1138.3 673.0,1133.5 681.9,1093.7 690.7,1124.2 699.5,1114.8 708.4,1122.9 717.2,1113.0" stroke="#8DA0CB" stroke-opacity="0.50"/>
<polyline points="150.8,1185.1 159.7,1182.0 168.5,1175.7 177.4,1166.4 186.2,1153.9 195.1,1135.2 203.9,1116.5 212.8,1082.3 221.6,1091.6 230.5,1082.3 239.3,1029.3 248.2,1010.7 257.0,1051.1 265.9,1051.1 274.8,1066.7 283.6,1057.4 292.4,1072.9 301.3,1066.7 310.1,1082.3 319.0,1094.7 327.9,1107.2 336.7,1122.8 345.5,1125.9 354.4,1113.4 363.2,1135.2 372.1,1135.4 380.9,1139.2 389.8,1134.8 398.6,1117.5 407.5,1122.3 416.4,1120.6 425.2,1119.3 434.0,1124.5 442.9,1134.4 451.8,1140.9 460.6,1116.0 469.4,1122.1 478.3,1134.3 487.1,1129.2 496.0,1127.4 504.9,1134.7 513.7,1106.4 522.5,1119.9 531.4,1133.5 540.2,1136.9 549.1,1128.4 557.9,1128.7 566.8,1135.6 575.6,1128.4 584.5,1125.5 593.4,1124.3 602.2,1122.3 611.0,1129.4 619.9,1119.8 628.8,1129.7 637.6,1112.3 646.4,1113.1 655.3,1123.9 664.1,1105.3 673.0,1130.8 681.9,1133.1 690.7,1133.0 699.5,1124.1 708.4,1126.5 717.2,1120.9" stroke="#8DA0CB" stroke-opacity="0.50"/>
<polyline points="150.8,1153.3 159.7,1137.6 168.5,1153.9 177.4,1156.8 186.2,1150.5 195.1,1133.4 203.9,1154.2 212.8,1151.2 221.6,1139.2 230.5,1155.4 239.3,1122.2 248.2,1147.1 257.0,1148.2 265.9,1147.3 274.8,1145.9 283.6,1114.0 292.4,1151.5 301.3,1145.0 310.1,1137.7 319.0,1148.7 327.9,1132.7 336.7,1136.2 345.5,1143.5 354.4,1141.1 363.2,1145.9 372.1,1128.2 380.9,1149.5 389.8,1144.5 398.6,1145.2 407.5,1143.7 416.4,1110.2 425.2,1153.4 434.0,1152.4 442.9,1148.9 451.8,1143.0 460.6,1134.4 469.4,1152.8 478.3,1139.1 487.1,1139.7 496.0,1145.1 504.9,1117.3 513.7,1153.6 522.5,1146.2 531.4,1139.8 540.2,1132.1 549.1,1129.2 557.9,1138.7 566.8,1134.6 575.6,1129.1 584.5,1131.3 593.4,1107.3 602.2,1135.1 611.0,1116.3 619.9,1119.8 628.8,1123.0 637.6,1108.7 646.4,1116.4 655.3,1134.3 664.1,1121.6 673.0,1119.6 681.9,1076.4 690.7,1127.1 699.5,1123.6 708.4,1119.9 717.2,1099.8" stroke="#A6D854" stroke-opacity="0.50"/>
<polyline points="150.8,1191.3 159.7,1191.3 168.5,1191.3 177.4,1191.3 186.2,1191.3 195.1,1191.3 203.9,1191.3 212.8,1191.3 221.6,1191.3 230.5,1191.3 239.3,1186.8 248.2,1185.2 257.0,1180.7 265.9,1174.2 274.8,1171.8 283.6,1168.9 292.4,1167.4 301.3,1158.9 310.1,1158.9 319.0,1144.9 327.9,1149.9 336.7,1140.2 345.5,1138.1 354.4,1141.7 363.2,1124.8 372.1,1138.8 380.9,1157.1 389.8,1148.0 398.6,1136.3 407.5,1149.2 416.4,1147.4 425.2,1141.5 434.0,1137.3 442.9,1140.1 451.8,1132.6 460.6,1146.5 469.4,1157.3 478.3,1137.9 487.1,1139.1 496.0,1155.2 504.9,1172.7 513.7,1170.9 522.5,1172.4 531.4,1167.1 540.2,1177.1 549.1,1178.8 557.9,1172.1 566.8,1175.2 575.6,1175.4 584.5,1167.8 593.4,1169.2 602.2,1173.7 611.0,1165.6 619.9,1167.7 628.8,1173.8 637.6,1171.1 646.4,1172.7 655.3,1171.9 664.1,1168.0 673.0,1177.5 681.9,1167.6 690.7,1170.8 699.5,1172.8 708.4,1175.5 717.2,1171.8" stroke="#8DA0CB" stroke-opacity="0.50"/>
</g>
<line x1="122.70" y1="686.0" x2="122.70" y2="1216.0" stroke="#111" stroke-width="1.4"/>
<line x1="112" y1="1035.57" x2="122.70" y2="1035.57" stroke="#111" stroke-width="1.25"/>
<line x1="112" y1="879.84" x2="122.70" y2="879.84" stroke="#111" stroke-width="1.25"/>
<line x1="112" y1="724.11" x2="122.70" y2="724.11" stroke="#111" stroke-width="1.25"/>
<text transform="translate(98.20,1199.90) scale(1,1.040)" text-anchor="end">0</text>
<text transform="translate(98.20,1044.17) scale(1,1.040)" text-anchor="end">0.05</text>
<text transform="translate(98.20,888.44) scale(1,1.040)" text-anchor="end">0.10</text>
<text transform="translate(98.20,732.71) scale(1,1.040)" text-anchor="end">0.15</text>
<line x1="122.7" y1="1215.4" x2="745.2" y2="1215.4" stroke="#111" stroke-width="1.2"/>
<line x1="150.85" y1="1215.4" x2="150.85" y2="1226" stroke="#222" stroke-width="1.2"/>
<text transform="translate(150.85,1264.60) scale(1,1.040)" text-anchor="middle">0</text>
<line x1="327.85" y1="1215.4" x2="327.85" y2="1226" stroke="#222" stroke-width="1.2"/>
<text transform="translate(327.85,1264.60) scale(1,1.040)" text-anchor="middle">20</text>
<line x1="504.85" y1="1215.4" x2="504.85" y2="1226" stroke="#222" stroke-width="1.2"/>
<text transform="translate(504.85,1264.60) scale(1,1.040)" text-anchor="middle">40</text>
<line x1="681.85" y1="1215.4" x2="681.85" y2="1226" stroke="#222" stroke-width="1.2"/>
<text transform="translate(681.85,1264.60) scale(1,1.040)" text-anchor="middle">60</text>
<rect x="124.30" y="619.50" width="619.40" height="64.9" fill="#f2f2f2" stroke="#000" stroke-width="3.2"/>
<text transform="translate(433.95,661.60) scale(1,1.040)" text-anchor="middle">Cluster 3 no. of diseases: 30</text>
<line x1="882.85" y1="1215.4" x2="882.85" y2="686.0" stroke="#a6a6a6" stroke-width="1.1" stroke-dasharray="3.6 3.66"/>
<line x1="1059.85" y1="1215.4" x2="1059.85" y2="686.0" stroke="#a6a6a6" stroke-width="1.1" stroke-dasharray="3.6 3.66"/>
<line x1="1236.85" y1="1215.4" x2="1236.85" y2="686.0" stroke="#a6a6a6" stroke-width="1.1" stroke-dasharray="3.6 3.66"/>
<line x1="794.35" y1="1215.4" x2="794.35" y2="686.0" stroke="#8a8a8a" stroke-width="2.2" stroke-dasharray="7 7.27"/>
<line x1="971.35" y1="1215.4" x2="971.35" y2="686.0" stroke="#8a8a8a" stroke-width="2.2" stroke-dasharray="7 7.27"/>
<line x1="1148.35" y1="1215.4" x2="1148.35" y2="686.0" stroke="#8a8a8a" stroke-width="2.2" stroke-dasharray="7 7.27"/>
<line x1="1325.35" y1="1215.4" x2="1325.35" y2="686.0" stroke="#8a8a8a" stroke-width="2.2" stroke-dasharray="7 7.27"/>
<line x1="766.2" y1="1191.30" x2="1388.7" y2="1191.30" stroke="#111" stroke-width="1.2"/>
<g fill="none" stroke-width="4.6" stroke-linejoin="round" stroke-linecap="butt">
<polyline points="794.4,1035.6 803.2,1082.3 812.0,1097.9 820.9,1082.3 829.8,942.1 838.6,788.0 847.5,889.2 856.3,800.4 865.1,973.3 874.0,1020.0 882.9,942.1 891.7,1082.3 900.5,1082.3 909.4,1135.2 918.2,1141.5 927.1,1151.5 936.0,1158.4 944.8,1152.3 953.6,1150.2 962.5,1154.6 971.4,1157.2 980.2,1155.8 989.0,1149.8 997.9,1168.0 1006.8,1149.2 1015.6,1163.3 1024.5,1162.4 1033.3,1164.5 1042.2,1166.5 1051.0,1164.1 1059.8,1160.5 1068.7,1161.5 1077.5,1162.2 1086.4,1166.2 1095.2,1160.6 1104.1,1173.0 1112.9,1164.4 1121.8,1166.0 1130.7,1163.5 1139.5,1161.8 1148.3,1183.3 1157.2,1171.0 1166.0,1172.2 1174.9,1176.8 1183.8,1184.1 1192.6,1167.0 1201.4,1166.7 1210.3,1170.2 1219.2,1173.5 1228.0,1177.7 1236.8,1175.1 1245.7,1176.2 1254.5,1191.3 1263.4,1172.8 1272.2,1171.3 1281.1,1180.5 1289.9,1172.6 1298.8,1153.9 1307.7,1141.5 1316.5,1135.2 1325.3,1144.6 1334.2,1138.4 1343.0,1097.9 1351.9,1085.4 1360.8,1066.7" stroke="#FBB4AE" stroke-opacity="0.50"/>
<polyline points="794.4,1125.9 803.2,1144.6 812.0,1082.3 820.9,1082.3 829.8,1066.7 838.6,942.1 847.5,960.8 856.3,954.6 865.1,988.9 874.0,1082.3 882.9,1091.6 891.7,1091.6 900.5,1097.9 909.4,1097.9 918.2,1104.1 927.1,1113.4 936.0,1113.4 944.8,1091.6 953.6,1091.6 962.5,1113.4 971.4,1113.4 980.2,1144.6 989.0,1160.2 997.9,1153.9 1006.8,1153.9 1015.6,1158.8 1024.5,1161.8 1033.3,1156.1 1042.2,1160.7 1051.0,1161.0 1059.8,1159.6 1068.7,1169.3 1077.5,1153.7 1086.4,1157.9 1095.2,1157.6 1104.1,1155.7 1112.9,1164.7 1121.8,1162.7 1130.7,1151.7 1139.5,1155.4 1148.3,1163.3 1157.2,1155.5 1166.0,1167.8 1174.9,1166.3 1183.8,1141.9 1192.6,1161.7 1201.4,1157.7 1210.3,1164.4 1219.2,1167.8 1228.0,1159.1 1236.8,1161.4 1245.7,1148.2 1254.5,1161.1 1263.4,1148.6 1272.2,1167.7 1281.1,1147.7 1289.9,1141.5 1298.8,1135.2 1307.7,1116.5 1316.5,1129.0 1325.3,1113.4 1334.2,1141.5 1343.0,1122.8 1351.9,1129.0 1360.8,1116.5" stroke="#66C2A5" stroke-opacity="0.50"/>
<polyline points="794.4,1088.5 803.2,1097.9 812.0,1097.9 820.9,1113.4 829.8,1004.4 838.6,867.4 847.5,942.1 856.3,883.0 865.1,1004.4 874.0,1051.1 882.9,1051.1 891.7,1129.0 900.5,1144.6 909.4,1160.4 918.2,1145.3 927.1,1167.2 936.0,1166.0 944.8,1161.8 953.6,1161.7 962.5,1159.6 971.4,1161.0 980.2,1155.6 989.0,1163.7 997.9,1167.1 1006.8,1155.2 1015.6,1161.0 1024.5,1168.9 1033.3,1159.1 1042.2,1161.4 1051.0,1162.5 1059.8,1170.7 1068.7,1169.4 1077.5,1167.7 1086.4,1157.8 1095.2,1180.0 1104.1,1162.1 1112.9,1162.6 1121.8,1156.6 1130.7,1169.5 1139.5,1172.9 1148.3,1175.6 1157.2,1170.8 1166.0,1163.5 1174.9,1177.2 1183.8,1165.1 1192.6,1168.9 1201.4,1162.9 1210.3,1168.6 1219.2,1169.1 1228.0,1174.3 1236.8,1174.9 1245.7,1171.9 1254.5,1177.2 1263.4,1165.2 1272.2,1174.7 1281.1,1166.4 1289.9,1153.9 1298.8,1141.5 1307.7,1129.0 1316.5,1122.8 1325.3,1129.0 1334.2,1135.2 1343.0,1113.4 1351.9,1097.9 1360.8,1097.9" stroke="#FBB4AE" stroke-opacity="0.50"/>
<polyline points="794.4,1118.1 803.2,1153.9 812.0,1129.0 820.9,1097.9 829.8,1066.7 838.6,1004.4 847.5,1082.3 856.3,1041.8 865.1,1082.3 874.0,1104.1 882.9,1113.4 891.7,1135.2 900.5,1150.8 909.4,1166.0 918.2,1169.5 927.1,1171.8 936.0,1156.9 944.8,1170.6 953.6,1154.2 962.5,1158.4 971.4,1161.5 980.2,1140.2 989.0,1151.8 997.9,1153.4 1006.8,1156.4 1015.6,1166.9 1024.5,1166.7 1033.3,1154.5 1042.2,1154.0 1051.0,1141.9 1059.8,1166.8 1068.7,1156.1 1077.5,1166.1 1086.4,1168.0 1095.2,1155.6 1104.1,1162.0 1112.9,1161.2 1121.8,1167.6 1130.7,1164.7 1139.5,1144.9 1148.3,1141.9 1157.2,1153.5 1166.0,1167.4 1174.9,1164.8 1183.8,1171.7 1192.6,1157.4 1201.4,1163.1 1210.3,1164.3 1219.2,1155.9 1228.0,1165.2 1236.8,1162.2 1245.7,1168.0 1254.5,1165.7 1263.4,1168.5 1272.2,1162.9 1281.1,1153.9 1289.9,1147.7 1298.8,1141.5 1307.7,1129.0 1316.5,1129.0 1325.3,1135.2 1334.2,1144.6 1343.0,1129.0 1351.9,1141.5 1360.8,1129.0" stroke="#66C2A5" stroke-opacity="0.50"/>
<polyline points="794.4,1066.7 803.2,1082.3 812.0,1082.3 820.9,1113.4 829.8,1097.9 838.6,1066.7 847.5,1129.0 856.3,1104.1 865.1,1129.0 874.0,1144.6 882.9,1153.9 891.7,1147.7 900.5,1153.9 909.4,1172.6 918.2,1153.9 927.1,1166.4 936.0,1153.9 944.8,1160.2 953.6,1153.9 962.5,1160.2 971.4,1160.2 980.2,1160.2 989.0,1160.2 997.9,1160.2 1006.8,1160.2 1015.6,1160.2 1024.5,1144.6 1033.3,1153.9 1042.2,1153.9 1051.0,1135.2 1059.8,1118.1 1068.7,1130.6 1077.5,1130.6 1086.4,1154.9 1095.2,1154.9 1104.1,1154.9 1112.9,1142.7 1121.8,1154.9 1130.7,1154.9 1139.5,1160.2 1148.3,1160.2 1157.2,1147.7 1166.0,1160.2 1174.9,1157.0 1183.8,1157.0 1192.6,1157.0 1201.4,1157.0 1210.3,1157.0 1219.2,1157.0 1228.0,1147.7 1236.8,1160.2 1245.7,1153.9 1254.5,1150.8 1263.4,1147.7 1272.2,1141.5 1281.1,1153.9 1289.9,1150.8 1298.8,1150.8 1307.7,1150.8 1316.5,1150.8 1325.3,1150.8 1334.2,1141.5 1343.0,1141.5 1351.9,1153.9 1360.8,1166.4" stroke="#A6D854" stroke-opacity="0.50"/>
<polyline points="794.4,1186.3 803.2,1182.0 812.0,1160.2 820.9,1129.0 829.8,1097.9 838.6,1082.3 847.5,1113.4 856.3,1097.9 865.1,1129.0 874.0,1144.6 882.9,1082.3 891.7,1153.9 900.5,1160.2 909.4,1170.7 918.2,1170.6 927.1,1160.1 936.0,1164.4 944.8,1159.8 953.6,1172.3 962.5,1172.8 971.4,1168.2 980.2,1174.1 989.0,1165.3 997.9,1173.5 1006.8,1180.8 1015.6,1181.1 1024.5,1187.9 1033.3,1183.8 1042.2,1177.5 1051.0,1184.1 1059.8,1186.3 1068.7,1184.3 1077.5,1180.1 1086.4,1184.5 1095.2,1183.2 1104.1,1177.8 1112.9,1185.5 1121.8,1190.3 1130.7,1177.3 1139.5,1180.5 1148.3,1175.2 1157.2,1187.5 1166.0,1186.1 1174.9,1186.0 1183.8,1185.4 1192.6,1189.7 1201.4,1189.7 1210.3,1189.7 1219.2,1189.7 1228.0,1189.7 1236.8,1189.7 1245.7,1189.7 1254.5,1189.7 1263.4,1189.7 1272.2,1189.7 1281.1,1189.7 1289.9,1189.7 1298.8,1189.7 1307.7,1189.7 1316.5,1189.7 1325.3,1189.7 1334.2,1189.7 1343.0,1189.7 1351.9,1189.7 1360.8,1189.7" stroke="#FBB4AE" stroke-opacity="0.50"/>
<polyline points="794.4,1142.1 803.2,1163.3 812.0,1144.6 820.9,1113.4 829.8,1082.3 838.6,1020.0 847.5,1097.9 856.3,1066.7 865.1,1113.4 874.0,1129.0 882.9,1135.2 891.7,1171.4 900.5,1166.2 909.4,1166.0 918.2,1170.3 927.1,1158.0 936.0,1168.0 944.8,1165.4 953.6,1175.5 962.5,1156.8 971.4,1173.8 980.2,1166.2 989.0,1167.7 997.9,1174.2 1006.8,1163.0 1015.6,1165.5 1024.5,1166.9 1033.3,1169.2 1042.2,1163.5 1051.0,1165.5 1059.8,1166.2 1068.7,1184.9 1077.5,1169.7 1086.4,1157.8 1095.2,1165.1 1104.1,1166.5 1112.9,1173.6 1121.8,1167.1 1130.7,1167.0 1139.5,1166.6 1148.3,1166.6 1157.2,1168.9 1166.0,1171.0 1174.9,1178.1 1183.8,1172.2 1192.6,1162.6 1201.4,1168.5 1210.3,1171.7 1219.2,1162.0 1228.0,1164.0 1236.8,1166.0 1245.7,1161.6 1254.5,1163.0 1263.4,1162.6 1272.2,1165.2 1281.1,1172.2 1289.9,1173.9 1298.8,1160.2 1307.7,1153.9 1316.5,1150.8 1325.3,1191.3 1334.2,1153.9 1343.0,1166.4 1351.9,1160.2 1360.8,1153.9" stroke="#66C2A5" stroke-opacity="0.50"/>
<polyline points="794.4,1113.4 803.2,1129.0 812.0,1113.4 820.9,1129.0 829.8,1097.9 838.6,1051.1 847.5,1097.9 856.3,1066.7 865.1,1129.0 874.0,1144.6 882.9,1129.0 891.7,1160.2 900.5,1166.2 909.4,1169.8 918.2,1154.9 927.1,1164.1 936.0,1172.7 944.8,1178.4 953.6,1170.6 962.5,1171.8 971.4,1179.9 980.2,1162.1 989.0,1163.6 997.9,1169.9 1006.8,1173.3 1015.6,1161.2 1024.5,1183.7 1033.3,1184.2 1042.2,1182.0 1051.0,1182.8 1059.8,1181.5 1068.7,1183.3 1077.5,1180.6 1086.4,1180.9 1095.2,1187.8 1104.1,1176.1 1112.9,1173.7 1121.8,1178.4 1130.7,1176.3 1139.5,1175.6 1148.3,1173.2 1157.2,1181.3 1166.0,1181.7 1174.9,1187.9 1183.8,1185.1 1192.6,1166.3 1201.4,1176.9 1210.3,1183.1 1219.2,1175.4 1228.0,1186.8 1236.8,1185.1 1245.7,1185.1 1254.5,1185.1 1263.4,1185.1 1272.2,1185.1 1281.1,1185.1 1289.9,1185.1 1298.8,1185.1 1307.7,1185.1 1316.5,1185.1 1325.3,1185.1 1334.2,1185.1 1343.0,1185.1 1351.9,1185.1 1360.8,1185.1" stroke="#FBB4AE" stroke-opacity="0.50"/>
<polyline points="794.4,1166.4 803.2,1178.8 812.0,1160.2 820.9,1129.0 829.8,1097.9 838.6,1051.1 847.5,1129.0 856.3,1082.3 865.1,1129.0 874.0,1144.6 882.9,1153.9 891.7,1183.1 900.5,1174.9 909.4,1182.1 918.2,1180.2 927.1,1176.1 936.0,1166.7 944.8,1170.5 953.6,1169.4 962.5,1170.3 971.4,1178.0 980.2,1169.2 989.0,1180.7 997.9,1171.3 1006.8,1174.4 1015.6,1177.9 1024.5,1174.6 1033.3,1164.2 1042.2,1171.5 1051.0,1191.3 1059.8,1176.1 1068.7,1170.5 1077.5,1169.2 1086.4,1173.4 1095.2,1172.0 1104.1,1179.5 1112.9,1173.1 1121.8,1166.0 1130.7,1183.2 1139.5,1173.7 1148.3,1167.1 1157.2,1183.8 1166.0,1167.0 1174.9,1177.0 1183.8,1179.9 1192.6,1184.0 1201.4,1179.5 1210.3,1176.1 1219.2,1181.1 1228.0,1179.7 1236.8,1175.5 1245.7,1179.7 1254.5,1173.0 1263.4,1173.7 1272.2,1174.8 1281.1,1166.2 1289.9,1175.5 1298.8,1179.7 1307.7,1172.6 1316.5,1175.7 1325.3,1175.7 1334.2,1175.7 1343.0,1178.8 1351.9,1185.1 1360.8,1191.3" stroke="#66C2A5" stroke-opacity="0.50"/>
<polyline points="794.4,1066.7 803.2,1097.9 812.0,1113.4 820.9,1129.0 829.8,1097.9 838.6,1066.7 847.5,1113.4 856.3,1082.3 865.1,1129.0 874.0,1144.6 882.9,1113.4 891.7,1153.9 900.5,1165.0 909.4,1147.4 918.2,1168.7 927.1,1163.4 936.0,1163.3 944.8,1163.5 953.6,1169.0 962.5,1155.1 971.4,1168.2 980.2,1161.1 989.0,1160.6 997.9,1167.3 1006.8,1162.6 1015.6,1176.1 1024.5,1162.6 1033.3,1173.4 1042.2,1165.0 1051.0,1165.8 1059.8,1153.2 1068.7,1163.0 1077.5,1157.5 1086.4,1156.4 1095.2,1161.3 1104.1,1164.2 1112.9,1161.7 1121.8,1167.6 1130.7,1153.0 1139.5,1168.6 1148.3,1154.9 1157.2,1170.3 1166.0,1161.7 1174.9,1163.7 1183.8,1161.7 1192.6,1161.2 1201.4,1173.0 1210.3,1152.5 1219.2,1153.8 1228.0,1170.8 1236.8,1161.2 1245.7,1159.7 1254.5,1155.5 1263.4,1163.9 1272.2,1168.8 1281.1,1153.9 1289.9,1151.2 1298.8,1148.4 1307.7,1145.6 1316.5,1142.9 1325.3,1140.1 1334.2,1137.3 1343.0,1134.5 1351.9,1131.8 1360.8,1129.0" stroke="#FBB4AE" stroke-opacity="0.50"/>
</g>
<line x1="766.2" y1="1215.4" x2="1388.7" y2="1215.4" stroke="#111" stroke-width="1.2"/>
<line x1="794.35" y1="1215.4" x2="794.35" y2="1226" stroke="#222" stroke-width="1.2"/>
<text transform="translate(794.35,1264.60) scale(1,1.040)" text-anchor="middle">0</text>
<line x1="971.35" y1="1215.4" x2="971.35" y2="1226" stroke="#222" stroke-width="1.2"/>
<text transform="translate(971.35,1264.60) scale(1,1.040)" text-anchor="middle">20</text>
<line x1="1148.35" y1="1215.4" x2="1148.35" y2="1226" stroke="#222" stroke-width="1.2"/>
<text transform="translate(1148.35,1264.60) scale(1,1.040)" text-anchor="middle">40</text>
<line x1="1325.35" y1="1215.4" x2="1325.35" y2="1226" stroke="#222" stroke-width="1.2"/>
<text transform="translate(1325.35,1264.60) scale(1,1.040)" text-anchor="middle">60</text>
<rect x="767.80" y="619.50" width="619.40" height="64.9" fill="#f2f2f2" stroke="#000" stroke-width="3.2"/>
<text transform="translate(1077.45,661.60) scale(1,1.040)" text-anchor="middle">Cluster 3 no. of diseases: 10</text>
<text transform="translate(20.60,653.60) rotate(-90) scale(1,1.040)" text-anchor="middle">Disease onset rate</text>
<text transform="translate(784.30,1315.80) scale(1,1.040)" text-anchor="middle">Age (years)</text>
<rect x="1426.60" y="157.90" width="56.16" height="56.25" fill="#FFF5EB"/>
<rect x="1482.76" y="157.90" width="56.16" height="56.25" fill="#FFF5EB"/>
<rect x="1538.92" y="157.90" width="56.16" height="56.25" fill="#D24604"/>
<rect x="1595.08" y="157.90" width="56.16" height="56.25" fill="#FEEEDF"/>
<rect x="1651.24" y="157.90" width="56.16" height="56.25" fill="#FEE6CF"/>
<rect x="1707.40" y="157.90" width="56.16" height="56.25" fill="#FDB77A"/>
<rect x="1763.56" y="157.90" width="56.16" height="56.25" fill="#FDDAB6"/>
<rect x="1819.72" y="157.90" width="56.16" height="56.25" fill="#FEE6CF"/>
<rect x="1875.88" y="157.90" width="56.16" height="56.25" fill="#FFF5EB"/>
<rect x="1932.04" y="157.90" width="56.16" height="56.25" fill="#FEEEDF"/>
<rect x="1426.60" y="214.15" width="56.16" height="56.25" fill="#FFF5EB"/>
<rect x="1482.76" y="214.15" width="56.16" height="56.25" fill="#FEEAD6"/>
<rect x="1538.92" y="214.15" width="56.16" height="56.25" fill="#FEE6CF"/>
<rect x="1595.08" y="214.15" width="56.16" height="56.25" fill="#FD9A4F"/>
<rect x="1651.24" y="214.15" width="56.16" height="56.25" fill="#F37622"/>
<rect x="1707.40" y="214.15" width="56.16" height="56.25" fill="#FDE0C3"/>
<rect x="1763.56" y="214.15" width="56.16" height="56.25" fill="#FEEAD6"/>
<rect x="1819.72" y="214.15" width="56.16" height="56.25" fill="#FEEAD6"/>
<rect x="1875.88" y="214.15" width="56.16" height="56.25" fill="#FEEAD6"/>
<rect x="1932.04" y="214.15" width="56.16" height="56.25" fill="#FFF5EB"/>
<rect x="1426.60" y="270.40" width="56.16" height="56.25" fill="#FFF5EB"/>
<rect x="1482.76" y="270.40" width="56.16" height="56.25" fill="#FDC998"/>
<rect x="1538.92" y="270.40" width="56.16" height="56.25" fill="#FFF5EB"/>
<rect x="1595.08" y="270.40" width="56.16" height="56.25" fill="#FDD5AC"/>
<rect x="1651.24" y="270.40" width="56.16" height="56.25" fill="#FDC998"/>
<rect x="1707.40" y="270.40" width="56.16" height="56.25" fill="#FDB77A"/>
<rect x="1763.56" y="270.40" width="56.16" height="56.25" fill="#FFF5EB"/>
<rect x="1819.72" y="270.40" width="56.16" height="56.25" fill="#FFF5EB"/>
<rect x="1875.88" y="270.40" width="56.16" height="56.25" fill="#FDD5AC"/>
<rect x="1932.04" y="270.40" width="56.16" height="56.25" fill="#FDB77A"/>
<rect x="1426.60" y="326.65" width="56.16" height="56.25" fill="#E5560B"/>
<rect x="1482.76" y="326.65" width="56.16" height="56.25" fill="#8C2D04"/>
<rect x="1538.92" y="326.65" width="56.16" height="56.25" fill="#FFF5EB"/>
<rect x="1595.08" y="326.65" width="56.16" height="56.25" fill="#FFF5EB"/>
<rect x="1651.24" y="326.65" width="56.16" height="56.25" fill="#FFF5EB"/>
<rect x="1707.40" y="326.65" width="56.16" height="56.25" fill="#FDE0C3"/>
<rect x="1763.56" y="326.65" width="56.16" height="56.25" fill="#FFF5EB"/>
<rect x="1819.72" y="326.65" width="56.16" height="56.25" fill="#FFF5EB"/>
<rect x="1875.88" y="326.65" width="56.16" height="56.25" fill="#FFF5EB"/>
<rect x="1932.04" y="326.65" width="56.16" height="56.25" fill="#FFF5EB"/>
<path d="M1426.60 156.40V384.40M1482.76 156.40V384.40M1538.92 156.40V384.40M1595.08 156.40V384.40M1651.24 156.40V384.40M1707.40 156.40V384.40M1763.56 156.40V384.40M1819.72 156.40V384.40M1875.88 156.40V384.40M1932.04 156.40V384.40M1988.20 156.40V384.40M1425.10 157.90H1989.70M1425.10 214.15H1989.70M1425.10 270.40H1989.70M1425.10 326.65H1989.70M1425.10 382.90H1989.70" stroke="#999" stroke-width="3" fill="none"/>
<text transform="translate(1454.68,194.53) scale(1,1.040)" text-anchor="middle">0</text>
<text transform="translate(1510.84,194.53) scale(1,1.040)" text-anchor="middle">0</text>
<text transform="translate(1567.00,194.53) scale(1,1.040)" text-anchor="middle">44</text>
<text transform="translate(1623.16,194.53) scale(1,1.040)" text-anchor="middle">4</text>
<text transform="translate(1679.32,194.53) scale(1,1.040)" text-anchor="middle">8</text>
<text transform="translate(1735.48,194.53) scale(1,1.040)" text-anchor="middle">20</text>
<text transform="translate(1791.64,194.53) scale(1,1.040)" text-anchor="middle">12</text>
<text transform="translate(1847.80,194.53) scale(1,1.040)" text-anchor="middle">8</text>
<text transform="translate(1903.96,194.53) scale(1,1.040)" text-anchor="middle">0</text>
<text transform="translate(1960.12,194.53) scale(1,1.040)" text-anchor="middle">4</text>
<text transform="translate(1454.68,250.78) scale(1,1.040)" text-anchor="middle">0</text>
<text transform="translate(1510.84,250.78) scale(1,1.040)" text-anchor="middle">6</text>
<text transform="translate(1567.00,250.78) scale(1,1.040)" text-anchor="middle">8</text>
<text transform="translate(1623.16,250.78) scale(1,1.040)" text-anchor="middle">25</text>
<text transform="translate(1679.32,250.78) scale(1,1.040)" text-anchor="middle">33</text>
<text transform="translate(1735.48,250.78) scale(1,1.040)" text-anchor="middle">10</text>
<text transform="translate(1791.64,250.78) scale(1,1.040)" text-anchor="middle">6</text>
<text transform="translate(1847.80,250.78) scale(1,1.040)" text-anchor="middle">6</text>
<text transform="translate(1903.96,250.78) scale(1,1.040)" text-anchor="middle">6</text>
<text transform="translate(1960.12,250.78) scale(1,1.040)" text-anchor="middle">0</text>
<text transform="translate(1454.68,307.02) scale(1,1.040)" text-anchor="middle">0</text>
<text transform="translate(1510.84,307.02) scale(1,1.040)" text-anchor="middle">17</text>
<text transform="translate(1567.00,307.02) scale(1,1.040)" text-anchor="middle">0</text>
<text transform="translate(1623.16,307.02) scale(1,1.040)" text-anchor="middle">13</text>
<text transform="translate(1679.32,307.02) scale(1,1.040)" text-anchor="middle">17</text>
<text transform="translate(1735.48,307.02) scale(1,1.040)" text-anchor="middle">20</text>
<text transform="translate(1791.64,307.02) scale(1,1.040)" text-anchor="middle">0</text>
<text transform="translate(1847.80,307.02) scale(1,1.040)" text-anchor="middle">0</text>
<text transform="translate(1903.96,307.02) scale(1,1.040)" text-anchor="middle">13</text>
<text transform="translate(1960.12,307.02) scale(1,1.040)" text-anchor="middle">20</text>
<text transform="translate(1454.68,363.27) scale(1,1.040)" text-anchor="middle">40</text>
<text transform="translate(1510.84,363.27) scale(1,1.040)" text-anchor="middle">50</text>
<text transform="translate(1567.00,363.27) scale(1,1.040)" text-anchor="middle">0</text>
<text transform="translate(1623.16,363.27) scale(1,1.040)" text-anchor="middle">0</text>
<text transform="translate(1679.32,363.27) scale(1,1.040)" text-anchor="middle">0</text>
<text transform="translate(1735.48,363.27) scale(1,1.040)" text-anchor="middle">10</text>
<text transform="translate(1791.64,363.27) scale(1,1.040)" text-anchor="middle">0</text>
<text transform="translate(1847.80,363.27) scale(1,1.040)" text-anchor="middle">0</text>
<text transform="translate(1903.96,363.27) scale(1,1.040)" text-anchor="middle">0</text>
<text transform="translate(1960.12,363.27) scale(1,1.040)" text-anchor="middle">0</text>
<text transform="translate(2005.20,195.80) scale(1,1.040)">Cluster 1</text>
<text transform="translate(2005.20,252.05) scale(1,1.040)">Cluster 2</text>
<text transform="translate(2005.20,308.30) scale(1,1.040)">Cluster 3</text>
<text transform="translate(2005.20,364.55) scale(1,1.040)">Cluster 4</text>
<text transform="translate(1461.88,399.00) rotate(-90) scale(1,1.040)" text-anchor="end">Infections</text>
<text transform="translate(1518.04,399.00) rotate(-90) scale(1,1.040)" text-anchor="end">Respiratory/ENT</text>
<text transform="translate(1574.20,399.00) rotate(-90) scale(1,1.040)" text-anchor="end">Cardiovascular</text>
<text transform="translate(1630.36,399.00) rotate(-90) scale(1,1.040)" text-anchor="end">Gastrointestinal/abdominal</text>
<text transform="translate(1686.52,399.00) rotate(-90) scale(1,1.040)" text-anchor="end">Musculoskeletal/trauma</text>
<text transform="translate(1742.68,399.00) rotate(-90) scale(1,1.040)" text-anchor="end">Neurology/eye/psychiatry</text>
<text transform="translate(1798.84,399.00) rotate(-90) scale(1,1.040)" text-anchor="end">Endocrine/diabetes</text>
<text transform="translate(1855.00,399.00) rotate(-90) scale(1,1.040)" text-anchor="end">Renal/urology</text>
<text transform="translate(1911.16,399.00) rotate(-90) scale(1,1.040)" text-anchor="end">Hematology/dermatology</text>
<text transform="translate(1967.32,399.00) rotate(-90) scale(1,1.040)" text-anchor="end">Immunological/systemic disorders</text>
<path d="M1454.68 156.40V114.40H1510.84V156.40M1623.16 156.40V137.90H1679.32V156.40M1791.64 156.40V149.60H1847.80V156.40M1903.96 156.40V136.80H1960.12V156.40M1819.72 149.60V110.00H1932.04V136.80M1735.48 156.40V102.90H1875.88V110.00M1651.24 137.90V85.40H1805.68V102.90M1567.00 156.40V56.50H1728.46V85.40M1482.76 114.40V10.90H1647.73V56.50" stroke="#000" stroke-width="2.7" fill="none" stroke-linejoin="miter" stroke-linecap="square"/>
<text transform="translate(1476.60,859.60) scale(1,1.040)">Disease category</text>
<line x1="1482.9" y1="907.10" x2="1541" y2="907.10" stroke="#AAAAAA" stroke-width="4.3"/>
<text transform="translate(1557.90,916.30) scale(1,1.040)">Cardiovascular</text>
<line x1="1482.9" y1="940.60" x2="1541" y2="940.60" stroke="#B0CCE3" stroke-width="4.3"/>
<text transform="translate(1557.90,949.80) scale(1,1.040)">Endocrine/diabetes</text>
<line x1="1482.9" y1="974.10" x2="1541" y2="974.10" stroke="#8DA0CB" stroke-width="4.3"/>
<text transform="translate(1557.90,983.30) scale(1,1.040)">Gastrointestinal/abdominal</text>
<line x1="1482.9" y1="1007.60" x2="1541" y2="1007.60" stroke="#FC8D62" stroke-width="4.3"/>
<text transform="translate(1557.90,1016.80) scale(1,1.040)">Hematology/dermatology</text>
<line x1="1482.9" y1="1041.10" x2="1541" y2="1041.10" stroke="#C7E9C0" stroke-width="4.3"/>
<text transform="translate(1557.90,1050.30) scale(1,1.040)">Immunological/systemic disorders</text>
<line x1="1482.9" y1="1074.60" x2="1541" y2="1074.60" stroke="#66C2A5" stroke-width="4.3"/>
<text transform="translate(1557.90,1083.80) scale(1,1.040)">Infections</text>
<line x1="1482.9" y1="1108.10" x2="1541" y2="1108.10" stroke="#E78AC3" stroke-width="4.3"/>
<text transform="translate(1557.90,1117.30) scale(1,1.040)">Musculoskeletal/trauma</text>
<line x1="1482.9" y1="1141.60" x2="1541" y2="1141.60" stroke="#A6D854" stroke-width="4.3"/>
<text transform="translate(1557.90,1150.80) scale(1,1.040)">Neurology/eye/psychiatry</text>
<line x1="1482.9" y1="1175.10" x2="1541" y2="1175.10" stroke="#FFD92F" stroke-width="4.3"/>
<text transform="translate(1557.90,1184.30) scale(1,1.040)">Renal/urology</text>
<line x1="1482.9" y1="1208.60" x2="1541" y2="1208.60" stroke="#FBB4AE" stroke-width="4.3"/>
<text transform="translate(1557.90,1217.80) scale(1,1.040)">Respiratory/ENT</text>
</svg></body></html>
